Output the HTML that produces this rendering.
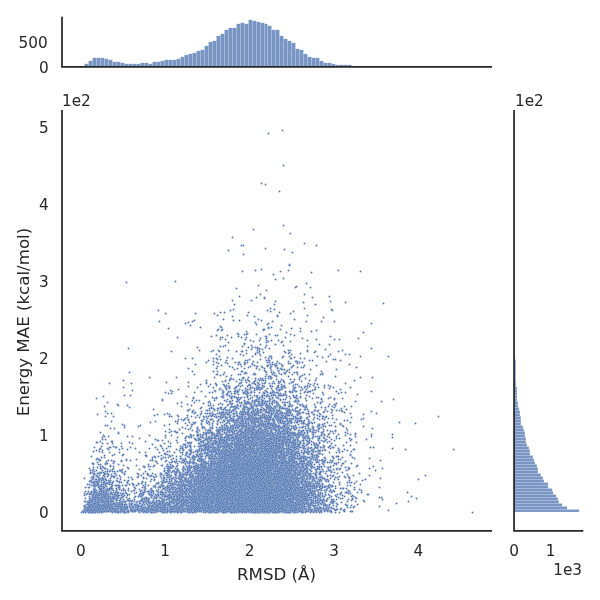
<!DOCTYPE html>
<html lang="en"><head><meta charset="utf-8"><title>RMSD vs Energy MAE</title>
<style>html,body{margin:0;padding:0;background:#fff}svg{display:block}text{font-family:"DejaVu Sans","Liberation Sans",sans-serif;fill:#262626}.t{font-size:15.28px}.l{font-size:16.67px}.b rect{fill:#4c72b0;fill-opacity:.75;stroke:#fff;stroke-width:.15}.sp{stroke:#262626;stroke-width:1.736;stroke-linecap:square;fill:none}</style></head>
<body>
<svg width="600" height="600" viewBox="0 0 600 600">
<rect width="600" height="600" fill="#fff"/>
<g class="b"><rect x="84.5" y="63.85" width="4" height="3.00"/><rect x="88.5" y="60.85" width="4" height="6.00"/><rect x="92.5" y="57.85" width="4" height="9.00"/><rect x="96.5" y="57.85" width="4" height="9.00"/><rect x="100.5" y="57.85" width="4" height="9.00"/><rect x="104.5" y="58.85" width="4" height="8.00"/><rect x="108.5" y="59.85" width="4" height="7.00"/><rect x="112.5" y="61.85" width="4" height="5.00"/><rect x="116.5" y="61.85" width="4" height="5.00"/><rect x="120.5" y="62.85" width="4" height="4.00"/><rect x="124.5" y="63.85" width="4" height="3.00"/><rect x="128.5" y="63.85" width="4" height="3.00"/><rect x="132.5" y="63.85" width="4" height="3.00"/><rect x="136.5" y="63.85" width="4" height="3.00"/><rect x="140.5" y="62.85" width="4" height="4.00"/><rect x="144.5" y="62.85" width="4" height="4.00"/><rect x="148.5" y="63.85" width="4" height="3.00"/><rect x="152.5" y="61.85" width="4" height="5.00"/><rect x="156.5" y="61.85" width="4" height="5.00"/><rect x="160.5" y="60.85" width="4" height="6.00"/><rect x="164.5" y="59.85" width="4" height="7.00"/><rect x="168.5" y="59.85" width="4" height="7.00"/><rect x="172.5" y="59.85" width="4" height="7.00"/><rect x="176.5" y="58.85" width="4" height="8.00"/><rect x="180.5" y="56.85" width="4" height="10.00"/><rect x="184.5" y="54.85" width="4" height="12.00"/><rect x="188.5" y="53.85" width="4" height="13.00"/><rect x="192.5" y="52.85" width="4" height="14.00"/><rect x="196.5" y="50.85" width="4" height="16.00"/><rect x="200.5" y="49.85" width="4" height="17.00"/><rect x="204.5" y="45.85" width="4" height="21.00"/><rect x="208.5" y="41.85" width="4" height="25.00"/><rect x="212.5" y="40.85" width="4" height="26.00"/><rect x="216.5" y="35.85" width="4" height="31.00"/><rect x="220.5" y="33.85" width="4" height="33.00"/><rect x="224.5" y="29.85" width="4" height="37.00"/><rect x="228.5" y="27.85" width="4" height="39.00"/><rect x="232.5" y="27.85" width="4" height="39.00"/><rect x="236.5" y="23.85" width="4" height="43.00"/><rect x="240.5" y="22.85" width="4" height="44.00"/><rect x="244.5" y="23.85" width="4" height="43.00"/><rect x="248.5" y="19.85" width="4" height="47.00"/><rect x="252.5" y="20.85" width="4" height="46.00"/><rect x="256.5" y="21.85" width="4" height="45.00"/><rect x="260.5" y="22.85" width="4" height="44.00"/><rect x="264.5" y="23.85" width="3" height="43.00"/><rect x="267.5" y="25.85" width="4" height="41.00"/><rect x="271.5" y="29.85" width="4" height="37.00"/><rect x="275.5" y="29.85" width="4" height="37.00"/><rect x="279.5" y="35.85" width="4" height="31.00"/><rect x="283.5" y="38.85" width="4" height="28.00"/><rect x="287.5" y="40.85" width="4" height="26.00"/><rect x="291.5" y="42.85" width="4" height="24.00"/><rect x="295.5" y="48.85" width="4" height="18.00"/><rect x="299.5" y="49.85" width="4" height="17.00"/><rect x="303.5" y="53.85" width="4" height="13.00"/><rect x="307.5" y="56.85" width="4" height="10.00"/><rect x="311.5" y="57.85" width="4" height="9.00"/><rect x="315.5" y="57.85" width="4" height="9.00"/><rect x="319.5" y="60.85" width="4" height="6.00"/><rect x="323.5" y="62.85" width="4" height="4.00"/><rect x="327.5" y="62.85" width="4" height="4.00"/><rect x="331.5" y="63.85" width="4" height="3.00"/><rect x="335.5" y="64.85" width="4" height="2.00"/><rect x="339.5" y="64.85" width="4" height="2.00"/><rect x="343.5" y="64.85" width="4" height="2.00"/><rect x="347.5" y="64.85" width="4" height="2.00"/><rect x="351.5" y="66.15" width="4" height="0.70"/><rect x="355.5" y="66.30" width="4" height="0.55"/><rect x="359.5" y="66.40" width="4" height="0.45"/><rect x="363.5" y="66.50" width="4" height="0.35"/><rect x="367.5" y="66.55" width="4" height="0.30"/><rect x="371.5" y="66.60" width="4" height="0.25"/><rect x="375.5" y="66.65" width="4" height="0.20"/><rect x="379.5" y="66.70" width="4" height="0.15"/></g>
<g class="b"><rect x="514.05" y="509.5" width="65.15" height="2.5"/><rect x="514.05" y="506.5" width="53.05" height="3.0"/><rect x="514.05" y="503.5" width="48.05" height="3.0"/><rect x="514.05" y="500.5" width="44.90" height="3.0"/><rect x="514.05" y="497.5" width="43.90" height="3.0"/><rect x="514.05" y="494.5" width="42.05" height="3.0"/><rect x="514.05" y="491.5" width="39.05" height="3.0"/><rect x="514.05" y="488.5" width="38.05" height="3.0"/><rect x="514.05" y="485.5" width="34.05" height="3.0"/><rect x="514.05" y="482.5" width="34.05" height="3.0"/><rect x="514.05" y="479.5" width="29.90" height="3.0"/><rect x="514.05" y="476.5" width="28.90" height="3.0"/><rect x="514.05" y="473.5" width="26.90" height="3.0"/><rect x="514.05" y="470.5" width="23.90" height="3.0"/><rect x="514.05" y="467.5" width="23.90" height="3.0"/><rect x="514.05" y="464.5" width="22.90" height="3.0"/><rect x="514.05" y="461.5" width="20.90" height="3.0"/><rect x="514.05" y="458.5" width="19.90" height="3.0"/><rect x="514.05" y="455.5" width="18.90" height="3.0"/><rect x="514.05" y="452.5" width="15.90" height="3.0"/><rect x="514.05" y="449.5" width="15.90" height="3.0"/><rect x="514.05" y="446.5" width="14.90" height="3.0"/><rect x="514.05" y="443.5" width="12.90" height="3.0"/><rect x="514.05" y="440.5" width="11.90" height="3.0"/><rect x="514.05" y="437.5" width="11.90" height="3.0"/><rect x="514.05" y="434.5" width="10.90" height="3.0"/><rect x="514.05" y="431.5" width="10.90" height="3.0"/><rect x="514.05" y="428.5" width="9.90" height="3.0"/><rect x="514.05" y="425.5" width="8.90" height="3.0"/><rect x="514.05" y="422.5" width="6.90" height="3.0"/><rect x="514.05" y="419.5" width="6.90" height="3.0"/><rect x="514.05" y="416.5" width="6.90" height="3.0"/><rect x="514.05" y="413.5" width="5.90" height="3.0"/><rect x="514.05" y="410.5" width="5.90" height="3.0"/><rect x="514.05" y="407.5" width="4.90" height="3.0"/><rect x="514.05" y="404.5" width="3.90" height="3.0"/><rect x="514.05" y="401.5" width="3.90" height="3.0"/><rect x="514.05" y="398.5" width="2.90" height="3.0"/><rect x="514.05" y="395.5" width="2.90" height="3.0"/><rect x="514.05" y="392.5" width="2.90" height="3.0"/><rect x="514.05" y="389.5" width="2.90" height="3.0"/><rect x="514.05" y="386.5" width="2.90" height="3.0"/><rect x="514.05" y="383.5" width="1.90" height="3.0"/><rect x="514.05" y="380.5" width="1.90" height="3.0"/><rect x="514.05" y="377.5" width="1.70" height="3.0"/><rect x="514.05" y="374.5" width="1.70" height="3.0"/><rect x="514.05" y="371.5" width="1.70" height="3.0"/><rect x="514.05" y="368.5" width="1.70" height="3.0"/><rect x="514.05" y="365.5" width="1.70" height="3.0"/><rect x="514.05" y="362.5" width="1.70" height="3.0"/><rect x="514.05" y="359.5" width="1.70" height="3.0"/></g>
<defs><marker id="m" markerUnits="userSpaceOnUse" markerWidth="4" markerHeight="4" refX="2" refY="2" viewBox="0 0 4 4" overflow="visible"><circle cx="2" cy="2" r=".982" fill="#4c72b0" stroke="#fff" stroke-width=".157"/></marker></defs>
<path transform="translate(.5 .5)" fill="none" stroke="none" marker-start="url(#m)" marker-mid="url(#m)" marker-end="url(#m)" d="M275 489 227 456 205 470 317 436 254 473 278 398 145 482 301 508 112 485 186 472 265 426 259 427 276 441 91 477 266 450 305 407 198 471 212 496 328 485 197 500 306 501 308 427 294 443 303 421 291 358 186 436 257 418 337 456 255 419 327 505 237 419 231 495 381 401 309 473 294 433 263 473 320 403 268 433 292 437 283 442 227 470 371 434 305 398 169 502 151 511 269 454 309 477 280 368 293 396 184 493 178 482 314 455 146 502 371 391 228 462 304 484 158 310 329 404 216 508 237 494 205 488 116 509 255 353 147 511 304 502 150 460 281 325 84 510 231 429 236 411 268 415 105 474 283 380 260 508 114 503 105 464 253 413 274 455 211 479 323 464 317 426 193 397 104 436 113 501 236 455 259 437 356 367 379 487 205 432 329 433 274 408 349 491 148 505 301 427 291 478 215 500 245 390 169 486 216 335 111 506 113 461 191 475 228 444 250 443 263 425 112 483 277 361 238 391 337 473 181 503 310 492 307 457 298 430 238 485 146 499 83 510 323 447 157 496 177 495 241 426 330 336 113 492 224 450 324 419 298 500 312 426 309 452 306 424 281 481 251 450 215 452 281 423 236 387 250 385 301 509 178 478 113 463 193 491 281 395 248 452 237 406 185 488 289 439 166 479 250 462 298 400 297 489 185 437 215 492 132 500 211 512 285 443 111 484 306 482 175 481 297 478 283 464 164 443 210 413 289 403 324 500 116 475 144 466 96 498 210 439 293 466 245 419 292 507 307 409 151 508 107 473 283 278 298 491 292 414 278 371 291 494 128 512 302 505 252 473 209 413 102 506 190 474 292 443 295 463 349 468 336 506 201 459 307 470 269 422 236 419 264 442 305 487 171 459 287 428 204 485 316 469 357 394 242 413 231 337 209 511 145 441 115 512 205 450 271 366 258 440 174 497 278 481 319 464 295 391 314 422 149 498 296 473 318 431 221 435 99 499 93 491 106 503 233 409 222 434 183 509 290 479 92 497 268 360 290 419 164 501 228 434 170 466 237 455 221 486 279 470 214 478 181 480 306 389 205 444 112 510 339 482 249 461 188 382 257 459 210 415 307 476 188 503 188 420 159 452 156 506 188 482 177 504 192 457 231 444 263 465 291 432 216 449 240 383 266 340 200 501 315 481 259 389 264 432 116 502 277 478 234 480 232 454 107 489 209 430 237 392 215 483 246 394 223 439 238 481 154 496 259 512 207 484 304 451 277 392 226 474 287 452 302 497 261 404 285 458 195 364 210 384 278 340 239 495 217 366 318 508 313 419 249 433 242 409 192 430 272 456 225 459 299 444 224 457 246 428 286 470 248 399 269 348 285 441 225 386 211 428 278 425 287 503 321 447 234 446 97 462 150 489 274 392 303 480 288 481 307 485 214 440 333 508 210 432 343 445 93 464 213 468 283 512 235 510 261 440 300 466 268 413 129 442 188 419 285 507 175 477 287 413 112 443 115 447 203 471 231 443 237 467 113 502 212 470 224 478 180 448 309 421 284 387 132 479 242 479 183 490 154 477 93 482 277 316 265 470 331 486 242 412 283 489 110 470 245 469 287 402 304 243 172 507 178 416 208 512 274 501 304 485 316 443 311 499 295 467 276 468 260 512 223 409 187 480 247 468 200 455 314 404 287 438 285 470 268 405 98 499 179 450 271 356 285 465 206 470 178 485 196 400 350 440 176 503 226 512 167 485 237 333 165 488 329 462 223 319 297 420 335 376 317 418 269 445 306 484 323 412 257 409 316 470 301 367 261 427 254 432 247 445 232 418 110 492 333 387 282 465 221 418 329 446 309 492 247 409 161 494 189 449 275 344 151 506 276 389 161 481 318 424 307 471 115 494 112 441 177 481 293 365 205 429 250 420 103 507 202 486 227 395 283 484 288 438 148 499 307 467 306 435 214 435 326 361 169 468 193 398 97 442 209 459 258 470 273 453 143 478 259 499 194 374 214 508 185 495 87 509 163 501 277 397 239 460 218 459 99 491 264 386 244 509 327 498 308 383 277 335 335 431 250 457 285 495 202 465 294 460 284 491 276 469 189 445 350 455 290 233 307 351 257 410 232 426 317 384 202 475 308 474 273 487 206 474 99 487 196 440 232 506 250 451 264 506 97 485 262 383 232 428 122 508 261 457 109 383 258 432 165 482 209 476 207 432 297 500 307 450 257 385 234 444 169 509 293 428 85 501 126 460 298 424 182 433 231 393 82 511 242 441 127 481 197 436 250 448 258 418 238 487 278 484 208 421 175 421 248 488 283 471 252 411 94 483 151 496 232 421 177 423 122 507 90 498 263 380 248 414 205 448 337 468 235 447 307 435 243 510 139 469 241 440 287 470 243 254 254 427 308 511 331 309 192 503 107 425 223 491 219 462 236 437 94 474 106 461 257 440 124 474 275 455 237 485 222 484 216 430 209 495 264 410 190 466 287 448 203 483 200 480 262 415 250 429 259 444 256 499 212 494 248 433 122 469 210 504 255 420 192 400 300 471 136 505 256 495 233 414 165 461 213 433 300 397 258 422 148 493 240 463 291 433 324 446 177 432 304 473 289 429 291 483 151 488 327 422 181 406 263 352 318 479 242 385 274 375 261 401 129 506 257 347 185 492 276 375 259 447 211 408 229 472 241 421 212 504 312 500 244 403 195 492 292 374 275 448 178 498 284 432 265 390 323 501 185 493 204 440 280 431 219 501 263 459 309 439 116 447 275 486 187 466 102 511 282 418 235 480 195 512 228 464 192 462 236 412 222 472 322 501 209 493 191 473 271 388 277 450 140 496 356 466 275 425 299 487 114 473 284 459 304 507 191 424 302 494 333 502 222 443 229 479 267 490 212 471 212 463 258 452 245 413 214 467 183 444 270 432 237 416 161 504 225 414 223 374 257 443 240 480 286 417 194 471 285 438 320 481 126 282 262 439 277 438 224 467 282 434 295 468 310 431 198 472 175 487 216 482 92 503 263 330 227 413 240 436 266 412 134 511 218 408 163 512 164 471 265 482 242 455 105 491 346 470 243 490 313 512 287 426 239 430 237 445 292 462 220 451 279 428 127 467 234 472 276 506 260 481 192 458 270 451 200 414 279 409 283 504 128 499 233 420 129 484 175 506 94 496 251 391 324 435 280 437 235 453 295 474 264 383 274 467 157 503 224 425 98 494 283 165 230 417 206 506 201 493 180 495 392 437 302 456 289 493 188 443 239 320 259 384 238 484 249 438 327 467 246 373 89 505 255 270 268 459 134 497 194 473 210 456 285 473 209 489 236 408 193 467 263 461 306 467 295 498 254 434 289 445 287 461 300 393 113 446 332 491 308 441 92 470 203 446 212 428 131 491 96 476 100 448 267 444 263 469 240 449 295 420 328 469 193 459 262 378 230 397 273 419 270 459 106 482 312 466 221 506 306 472 164 506 247 362 95 486 332 456 209 494 239 451 249 419 307 350 276 451 157 510 383 303 267 436 281 442 287 482 225 442 147 491 186 480 330 510 250 366 283 451 226 443 240 420 217 471 313 393 207 503 224 499 244 368 337 477 293 472 336 499 132 508 250 398 272 483 213 482 278 455 168 475 292 446 251 477 267 424 259 470 165 490 282 388 201 509 121 446 217 315 101 502 330 397 186 396 272 475 311 456 284 431 238 408 176 432 259 457 198 458 285 506 243 479 189 498 152 459 122 497 342 451 231 473 117 471 183 506 103 509 245 393 317 459 187 417 201 458 269 403 245 472 258 399 325 506 202 497 221 438 298 432 246 443 253 418 311 491 231 469 220 442 304 499 342 472 294 456 259 434 268 328 161 484 190 462 332 503 300 475 177 415 304 489 271 452 184 503 279 503 231 453 283 506 236 495 293 395 245 458 252 452 270 462 134 509 235 390 310 510 207 504 255 431 314 383 275 501 222 454 285 432 201 462 93 478 285 431 272 408 264 448 272 398 303 512 194 480 111 508 203 472 169 414 338 450 207 444 291 477 217 359 277 440 314 478 165 453 134 504 269 356 304 476 282 365 247 487 199 461 128 348 96 398 190 504 302 427 224 372 285 430 257 430 150 495 255 458 196 488 112 499 215 453 232 450 284 484 271 378 107 448 208 501 282 468 287 449 208 477 268 327 288 486 119 475 316 339 204 502 263 414 286 440 193 494 169 507 316 461 174 510 162 500 293 456 156 507 184 497 255 439 283 418 310 502 246 422 225 466 229 444 316 512 329 484 215 444 308 442 103 484 228 350 212 464 274 435 231 404 157 483 198 443 97 494 319 474 158 501 264 487 224 433 264 329 261 411 276 440 301 423 299 418 110 501 285 392 286 506 236 381 100 490 221 478 261 480 340 360 121 497 271 370 102 490 265 457 170 495 288 353 289 264 288 450 221 464 272 401 223 397 315 351 230 428 325 480 301 462 381 497 206 454 226 401 256 497 205 490 154 415 208 441 308 391 187 404 201 411 149 501 267 494 283 444 100 500 327 442 210 440 238 473 247 459 208 473 314 508 134 490 93 508 223 459 270 308 261 459 185 358 208 476 104 406 115 503 109 502 112 476 259 463 266 453 201 450 252 410 249 483 134 501 239 464 283 431 289 352 154 498 228 484 281 342 230 493 314 444 269 508 291 428 293 498 284 507 305 438 118 508 203 502 220 472 178 502 270 434 285 444 261 429 280 444 111 498 300 459 246 495 306 464 141 509 252 363 214 474 165 505 239 402 288 447 168 328 230 425 265 433 214 465 259 349 355 434 288 361 330 448 342 495 219 475 300 463 268 451 307 340 265 429 283 481 269 460 122 494 272 445 203 427 198 440 186 491 314 467 98 498 296 499 107 491 250 453 156 483 269 413 255 502 393 399 302 445 240 354 284 351 250 433 317 501 194 487 153 466 228 447 253 382 229 419 297 422 93 474 195 497 194 413 371 348 232 462 296 451 278 508 290 421 359 489 297 451 197 465 93 463 303 479 294 472 418 479 252 440 292 419 239 458 169 479 229 401 213 489 191 499 222 483 84 478 275 366 259 403 153 486 265 418 208 507 217 444 268 453 262 417 263 417 309 416 243 393 318 492 244 510 352 499 205 434 354 449 149 435 316 447 269 411 325 495 338 448 234 497 204 427 189 437 295 408 173 501 254 390 267 366 144 509 271 424 246 448 199 495 230 391 297 466 180 509 287 507 315 460 177 492 302 488 193 452 139 512 217 330 257 432 256 426 300 458 232 436 147 507 106 463 217 474 140 506 219 413 311 459 266 290 222 426 208 488 119 481 338 270 215 455 191 416 293 454 323 429 277 421 153 502 274 457 220 428 133 507 94 512 236 465 296 500 247 497 349 477 283 473 337 509 233 309 267 512 222 471 171 431 288 414 169 467 318 511 309 490 288 475 261 396 253 447 171 498 289 468 96 510 319 451 250 432 223 489 180 480 231 475 212 454 284 435 363 332 290 492 258 404 210 498 187 509 319 477 278 415 278 472 244 458 232 471 237 454 279 408 236 415 101 478 304 475 336 496 228 501 310 484 132 436 293 448 347 492 288 492 208 463 244 392 225 448 319 472 168 477 125 504 211 416 229 460 266 430 292 252 266 416 108 475 205 469 171 508 252 481 206 422 309 505 379 506 186 466 158 500 207 476 93 486 330 478 250 388 279 425 98 479 176 475 171 393 193 469 87 501 332 418 194 456 325 450 251 433 249 408 162 448 270 423 195 498 259 453 117 503 216 368 259 486 341 502 193 502 267 439 278 410 213 371 244 512 260 436 193 500 164 425 257 348 212 419 149 469 218 363 150 422 290 450 289 433 239 429 290 466 241 469 312 431 270 473 260 443 94 508 258 424 168 393 307 417 282 426 284 372 255 454 271 444 157 491 220 456 137 504 306 445 345 383 354 458 260 410 275 395 83 512 276 504 169 432 274 373 235 406 229 429 193 497 300 413 277 485 108 510 195 422 203 437 253 424 230 469 106 510 336 419 239 399 242 422 220 433 232 487 97 512 310 483 332 500 315 410 212 414 247 441 280 471 309 481 262 425 221 439 229 450 173 510 321 471 157 511 251 452 258 449 255 509 262 453 200 439 258 285 302 405 179 489 230 474 204 478 211 469 212 468 234 452 200 384 113 416 292 458 328 470 248 347 239 436 264 512 261 399 190 461 256 505 254 421 112 489 249 511 187 470 213 405 221 484 216 450 261 269 286 467 331 508 304 450 270 430 270 488 322 461 194 320 270 445 322 459 262 432 246 432 84 495 255 413 300 328 357 504 339 469 277 418 251 430 315 389 357 465 190 491 105 484 297 367 293 486 206 446 254 426 288 446 275 473 202 506 167 468 277 504 235 438 107 508 277 511 203 473 281 487 209 496 178 506 94 504 201 477 271 410 258 462 214 481 240 398 228 439 161 506 220 346 179 487 349 354 123 489 211 478 312 505 185 459 212 487 188 493 211 504 277 476 206 509 296 491 228 446 117 497 192 358 250 472 221 475 326 509 219 463 220 339 319 419 258 388 222 465 146 456 162 493 208 499 246 469 286 500 103 483 104 455 353 507 236 445 329 505 240 455 265 439 99 472 220 480 279 463 216 494 265 508 104 497 321 398 123 380 275 427 206 453 206 477 223 485 209 456 242 371 103 487 139 438 221 407 246 458 295 487 268 445 98 480 98 481 281 437 98 485 179 500 335 477 105 478 222 413 336 410 222 498 276 412 204 446 350 387 290 422 238 500 97 504 310 505 243 506 208 496 211 433 212 473 232 452 299 377 118 432 280 438 231 397 315 406 119 485 220 464 229 380 266 342 221 454 263 474 298 474 256 389 304 433 249 414 262 452 281 369 272 321 283 491 274 481 102 443 252 492 279 435 94 473 217 480 327 488 257 475 119 495 277 445 173 484 210 450 248 434 287 472 274 415 295 400 210 438 245 485 236 469 244 450 186 499 103 497 153 512 144 467 220 312 213 500 273 449 307 498 215 467 209 472 314 448 297 441 249 453 281 431 333 499 273 436 229 485 267 362 284 467 219 439 270 474 180 504 280 484 168 468 244 431 298 471 305 480 193 461 267 422 199 485 173 497 197 431 269 426 281 482 302 440 281 414 153 508 334 509 224 505 142 510 309 494 161 507 287 501 221 428 220 492 328 480 87 493 282 416 268 470 320 471 115 473 321 460 102 439 304 456 219 480 253 461 228 342 268 341 215 509 326 501 278 477 279 451 298 446 246 337 189 488 271 469 288 454 214 438 335 488 316 455 280 488 288 412 174 484 85 498 203 492 111 476 218 486 299 434 268 509 266 459 248 449 104 457 213 481 215 443 316 471 308 494 304 486 331 472 238 431 228 459 252 383 136 459 160 474 310 470 172 487 292 508 293 410 196 468 181 490 241 461 246 477 307 425 303 465 264 476 286 432 221 459 272 450 238 362 249 425 356 481 244 364 123 387 279 394 232 430 203 482 139 452 291 490 213 450 262 422 237 452 259 423 290 430 229 451 247 439 198 502 185 458 252 436 257 498 108 483 223 483 296 396 158 511 246 438 207 430 284 373 190 497 267 406 325 509 184 485 174 461 214 313 228 392 238 441 218 454 210 463 274 466 170 496 328 467 224 442 255 438 127 494 237 390 259 448 267 425 98 487 299 470 274 469 183 450 252 487 254 442 231 471 111 499 236 460 307 472 143 512 292 452 114 428 235 473 292 445 278 444 247 505 191 442 121 490 183 475 174 479 235 420 231 437 286 412 290 480 278 370 243 456 372 428 267 388 95 489 299 447 227 481 103 490 260 470 167 512 317 505 193 480 204 465 125 509 161 478 180 485 243 468 103 506 173 489 318 502 246 334 285 455 218 419 259 392 153 510 146 501 272 390 287 506 216 416 346 409 283 478 139 501 246 407 230 502 289 440 200 327 223 415 285 424 212 438 261 471 93 483 314 445 236 441 188 510 207 472 233 449 149 505 200 444 290 438 305 494 167 474 199 501 133 485 150 512 318 498 236 453 280 441 104 481 284 405 228 493 230 435 290 436 266 484 227 438 302 436 114 454 162 489 271 393 145 512 310 464 260 423 268 365 219 482 180 500 276 427 288 453 190 512 233 418 252 427 244 454 181 491 223 478 222 476 124 505 199 448 282 501 175 504 273 438 239 508 273 496 171 462 284 482 271 508 250 421 224 500 184 505 347 430 220 477 286 430 298 433 208 433 207 494 241 435 323 478 278 492 303 485 314 509 290 469 119 488 170 468 112 471 267 460 248 468 237 404 193 481 253 452 285 468 212 508 106 486 212 425 201 486 256 468 147 508 111 487 330 431 127 499 326 439 186 503 268 396 280 504 276 481 317 499 289 418 254 484 305 448 98 501 356 442 308 414 220 445 250 436 293 444 291 470 307 385 119 449 257 455 238 364 230 415 311 441 273 472 115 509 318 503 280 389 215 511 227 488 287 509 276 511 221 412 190 451 282 510 191 481 218 420 254 403 93 512 318 429 322 495 103 493 296 458 178 499 231 465 94 486 282 455 268 438 259 401 243 445 185 445 106 505 199 459 202 480 268 412 314 417 116 507 329 344 223 450 277 443 350 454 117 504 237 438 286 433 210 457 147 510 171 502 303 445 287 408 237 511 216 354 203 499 260 338 304 461 293 494 158 482 221 446 266 360 276 501 297 486 286 445 151 490 310 489 103 504 255 354 264 431 274 460 276 487 271 509 289 469 159 500 189 466 292 460 297 502 295 481 195 465 263 457 241 471 170 456 262 441 283 449 297 443 177 510 321 371 164 481 196 490 243 459 266 372 252 413 107 488 322 357 194 508 157 414 319 467 276 462 271 447 182 511 190 490 202 445 255 492 217 432 244 481 230 445 135 507 245 489 196 456 305 491 291 354 94 471 119 487 268 452 190 436 274 420 289 420 195 457 262 423 296 391 297 448 175 500 202 490 220 438 217 441 182 502 288 442 194 463 249 463 247 431 279 482 232 495 271 425 322 463 213 444 214 442 259 445 104 505 279 413 203 487 293 442 283 345 97 503 229 447 255 475 169 485 201 423 302 431 255 405 327 475 248 312 349 438 240 417 201 413 313 496 313 487 333 465 239 459 224 486 163 493 222 457 273 470 171 416 169 488 257 382 247 411 280 473 291 367 208 472 110 507 207 423 202 463 250 475 288 485 222 463 193 466 93 484 182 446 100 485 321 467 241 245 218 433 257 352 253 502 245 388 300 490 101 498 304 423 282 369 255 384 207 452 279 382 231 493 174 506 257 422 228 431 221 409 376 413 302 511 278 502 316 444 243 486 264 459 299 410 95 479 297 372 326 481 268 488 276 450 301 478 187 467 241 432 266 472 234 369 203 416 289 425 168 494 280 482 268 441 177 337 253 485 303 500 163 508 201 451 166 466 286 453 262 349 214 460 207 441 285 413 267 479 231 470 174 495 251 492 173 470 185 481 196 486 141 494 244 406 192 510 151 497 291 453 284 462 120 477 199 467 213 358 300 501 130 460 228 440 171 512 253 435 294 401 325 510 270 503 289 456 227 442 235 393 98 495 305 492 130 505 278 458 178 494 281 417 197 495 230 477 250 418 203 463 296 448 312 501 312 434 280 456 209 447 202 477 196 500 171 500 198 434 264 491 283 425 275 413 302 470 264 475 318 439 210 471 284 430 282 447 271 403 250 465 262 468 207 468 252 415 303 467 267 394 243 425 186 473 177 437 117 500 263 493 212 491 296 469 226 388 287 511 227 422 142 501 306 466 264 427 142 500 239 474 263 403 300 495 291 421 240 430 361 419 235 482 253 421 194 466 270 453 305 474 186 508 278 416 225 451 181 509 240 446 203 460 258 458 158 440 226 471 190 472 245 508 116 496 201 488 88 508 235 362 247 466 301 450 171 478 179 472 158 505 279 418 136 510 260 439 322 483 212 447 266 457 201 453 219 448 271 414 292 493 341 492 291 328 315 432 237 493 262 404 279 436 298 511 142 495 247 395 308 413 189 480 214 502 223 469 219 505 230 434 348 476 265 336 289 369 294 463 98 484 265 419 267 463 238 479 287 454 265 467 285 481 316 476 207 440 304 294 217 501 251 349 325 492 277 482 197 509 226 473 282 505 215 482 162 496 250 482 308 483 278 428 263 423 227 431 217 511 200 457 161 473 232 316 305 475 238 460 253 422 281 379 157 440 203 512 345 467 191 498 240 467 220 434 237 441 248 417 231 411 109 510 169 497 219 474 206 467 236 511 239 431 127 495 216 477 278 464 286 493 232 460 223 346 329 296 273 440 269 511 225 450 292 426 197 471 328 487 89 484 115 493 241 453 203 459 191 476 293 512 226 428 148 485 295 361 297 421 262 435 203 462 269 406 117 492 238 480 188 436 246 421 93 492 226 464 285 421 316 454 275 483 233 429 276 403 253 491 292 504 177 489 246 466 141 508 225 500 286 474 209 481 211 499 323 507 258 445 119 508 222 422 246 475 150 466 288 477 310 490 211 447 158 494 288 509 230 401 255 441 318 445 263 440 216 385 135 448 325 458 208 461 260 417 157 463 340 488 286 428 95 494 279 405 199 438 211 498 257 433 322 433 226 453 264 463 318 410 302 412 217 484 265 380 235 451 168 446 289 471 232 406 296 489 247 333 315 511 257 387 330 489 125 485 197 429 268 483 220 388 248 410 309 469 141 499 291 466 257 478 209 452 99 504 239 442 132 483 242 445 285 483 188 511 266 448 283 415 176 506 288 476 260 496 222 453 157 504 227 461 117 511 216 512 283 356 182 488 248 436 235 428 250 500 210 489 279 493 259 418 149 507 321 508 254 492 145 486 220 418 226 360 262 436 297 464 232 458 212 437 278 434 227 491 208 509 124 395 240 501 222 493 249 441 163 479 165 503 165 487 294 451 283 465 269 469 121 506 261 467 104 483 361 492 180 472 297 470 303 474 218 480 264 402 95 508 282 130 268 458 280 509 230 456 227 357 347 505 363 418 272 428 271 462 182 475 262 444 243 432 212 427 259 469 250 485 324 490 280 446 220 413 296 476 135 510 227 363 233 407 189 495 238 456 151 495 182 469 191 466 252 419 216 487 183 477 271 340 206 380 252 406 269 488 268 465 251 419 288 493 100 491 243 473 186 509 197 468 216 479 202 460 233 451 236 507 221 365 288 498 308 461 216 398 231 445 293 451 330 460 183 508 322 374 142 493 275 335 270 457 298 401 231 430 392 448 294 439 198 510 202 428 216 472 174 512 190 480 312 438 272 364 327 430 125 492 248 403 226 489 274 364 98 459 215 449 281 493 138 496 238 420 220 417 285 463 280 466 264 398 220 498 261 468 208 511 137 507 301 456 161 510 332 476 256 461 176 493 231 461 179 509 211 443 268 323 236 497 292 453 234 460 290 411 194 458 246 440 286 443 116 508 241 351 360 377 210 500 237 472 325 440 286 505 243 392 205 396 85 506 296 484 178 512 297 475 198 477 320 447 238 461 227 445 246 418 172 455 279 395 329 425 186 482 186 495 206 416 319 501 269 493 230 501 224 429 278 466 318 462 237 432 164 508 97 458 245 441 107 469 214 436 310 448 155 461 127 500 112 500 249 475 192 497 282 478 203 488 229 478 140 501 242 449 200 473 262 458 180 512 283 500 334 479 249 452 269 417 295 476 260 355 271 464 303 435 267 461 340 459 203 493 113 496 239 443 283 435 282 482 288 478 106 500 253 420 239 507 189 409 261 504 267 442 118 492 286 468 236 426 251 407 231 501 288 409 258 491 264 470 306 413 168 457 236 444 206 362 235 502 175 480 218 439 258 475 220 465 155 447 213 469 221 458 161 446 269 398 273 421 119 503 274 304 221 436 295 471 264 473 243 492 143 498 254 450 302 466 297 458 270 392 240 509 245 372 249 497 183 481 182 462 168 487 96 490 229 414 253 434 248 432 165 473 199 449 225 381 145 497 241 460 320 453 251 446 328 481 114 505 101 510 312 509 97 498 325 460 234 393 302 447 240 447 191 449 276 512 302 430 349 482 274 424 238 494 186 454 322 424 115 508 241 420 319 512 217 429 223 474 219 499 303 490 274 429 293 500 256 512 270 416 281 486 238 445 312 476 92 509 201 504 275 301 313 491 268 420 275 461 264 395 231 484 324 462 183 493 322 484 299 504 232 367 96 494 227 510 301 381 287 440 108 495 152 502 248 367 130 447 172 483 96 485 216 500 345 492 247 401 201 481 204 448 253 460 232 478 312 432 290 468 295 462 192 486 227 428 264 471 133 509 256 448 252 400 245 407 256 467 275 452 186 452 276 447 240 451 296 422 336 436 296 488 294 494 299 404 299 420 159 504 227 447 188 480 225 512 102 512 259 429 247 503 111 421 246 430 226 500 318 490 272 404 123 499 315 474 319 506 255 501 300 353 252 401 254 470 266 401 206 444 313 450 100 488 289 485 202 426 227 462 252 433 274 407 299 469 304 387 191 452 235 423 303 426 146 500 308 504 369 468 273 381 111 493 290 459 285 426 299 483 240 406 281 428 245 480 117 494 231 463 232 477 278 491 283 225 241 457 244 511 241 506 203 486 214 492 317 481 282 452 170 446 205 461 225 489 305 386 96 496 190 443 239 418 268 439 260 344 145 506 272 482 277 403 166 509 234 463 123 490 205 498 127 483 123 507 207 454 228 436 290 512 315 483 89 493 156 497 164 453 314 497 251 476 290 498 172 484 107 483 303 469 259 398 291 500 305 486 200 490 340 468 289 477 107 500 211 508 292 496 314 511 334 404 266 391 201 448 316 497 96 509 172 506 198 470 150 503 121 502 345 504 301 504 121 508 256 436 214 503 221 327 263 408 328 509 263 484 277 315 246 497 302 435 211 509 310 287 148 474 272 423 249 389 260 476 178 491 312 487 249 454 140 425 155 506 204 449 312 477 112 469 312 502 247 389 230 479 181 501 154 511 361 490 227 444 354 483 188 486 322 401 283 408 118 433 314 443 306 436 222 489 206 481 295 442 192 474 108 449 231 455 110 482 181 475 260 409 342 463 316 485 197 480 312 297 295 453 118 503 248 422 246 353 308 423 174 511 202 498 197 486 285 439 298 437 224 452 289 412 229 395 239 503 263 450 260 440 238 486 245 426 177 471 173 488 246 431 240 448 293 311 191 485 237 460 254 412 158 483 265 405 242 453 242 437 202 435 273 435 298 492 116 498 224 483 297 374 252 480 137 508 228 475 237 453 216 362 263 329 99 493 284 508 175 491 267 443 238 397 182 491 148 501 243 412 297 483 231 440 373 466 226 442 259 498 221 415 90 503 253 410 222 452 230 454 278 411 273 468 302 338 211 455 225 387 248 451 236 490 188 470 218 448 182 492 197 481 176 484 241 337 233 503 281 476 230 484 231 456 292 505 300 468 122 485 347 433 255 409 232 476 252 466 112 511 289 492 219 476 220 429 88 487 262 442 264 297 156 495 230 438 266 421 194 493 319 480 313 477 223 449 201 483 168 499 243 405 176 505 275 460 108 498 284 468 231 452 219 441 240 425 299 454 251 501 228 456 273 452 217 423 254 423 229 501 233 320 311 500 223 416 112 496 292 382 214 505 156 501 323 503 198 484 248 413 334 339 221 456 209 468 244 439 270 497 242 498 271 473 161 485 297 453 290 483 339 484 147 499 90 499 239 480 258 499 321 434 181 478 319 495 286 437 224 484 184 461 323 441 303 492 301 458 137 505 89 503 346 428 197 387 119 470 90 500 246 433 304 470 179 486 333 458 291 497 297 455 103 467 295 509 185 511 320 402 290 458 266 455 280 464 124 427 106 509 105 411 247 407 254 383 249 495 199 471 274 309 185 464 147 474 277 402 217 467 221 476 194 507 258 511 212 455 274 454 197 469 243 464 265 456 284 499 227 475 152 509 193 455 246 331 275 503 329 452 305 500 162 483 340 493 235 455 288 495 256 464 169 501 242 454 232 410 100 499 250 408 301 420 202 501 274 505 289 265 304 406 223 457 251 474 175 505 237 461 347 507 277 512 103 435 203 403 308 454 111 460 138 484 299 503 234 406 252 482 190 454 260 415 197 467 161 493 236 420 270 367 107 443 254 444 212 392 222 478 87 502 109 447 259 424 211 407 330 470 244 401 95 481 306 490 253 494 298 459 279 191 304 503 202 459 333 482 112 497 302 498 114 495 208 402 220 466 253 341 277 475 329 441 322 418 299 481 289 459 125 501 177 498 289 501 161 459 250 416 280 381 373 447 255 465 148 511 311 475 201 465 314 490 190 446 95 484 177 511 292 456 247 432 270 490 174 431 279 484 247 397 192 496 99 498 226 394 199 487 163 482 206 497 256 417 334 491 226 410 323 394 90 472 162 440 229 490 254 459 248 408 256 366 189 500 275 475 249 506 217 496 105 504 289 448 204 489 198 511 312 493 316 378 141 490 221 501 283 399 225 468 119 504 229 455 206 420 307 484 297 485 248 507 237 500 221 470 295 427 240 432 237 447 223 484 327 499 279 450 243 496 290 511 311 462 194 491 289 491 162 399 229 411 239 452 168 472 217 472 268 499 309 506 304 420 100 501 275 478 165 437 194 462 256 476 191 426 227 429 220 436 200 495 298 503 226 463 294 427 273 473 312 488 288 410 222 381 346 492 270 484 315 487 206 436 212 492 277 496 225 482 175 462 329 497 257 414 280 413 253 478 306 483 265 378 105 439 253 463 217 495 308 425 180 501 221 494 296 434 268 431 312 490 228 445 191 437 284 461 261 452 243 438 97 483 109 505 196 506 328 447 313 442 255 453 290 413 221 463 363 500 196 470 304 438 321 489 296 490 283 434 142 482 231 412 270 475 290 467 289 434 244 417 288 464 226 497 324 441 259 417 248 385 273 400 245 363 215 481 213 414 286 446 190 445 139 495 237 505 251 470 294 435 289 372 249 510 214 455 292 392 241 459 100 502 241 455 165 313 164 468 205 433 155 497 189 477 249 468 351 505 146 455 252 420 286 491 171 485 121 461 187 498 253 466 228 489 303 456 204 463 280 510 293 457 256 507 294 458 273 451 176 456 125 508 287 436 251 423 276 431 244 440 250 455 354 380 209 492 155 508 261 421 317 457 209 464 295 452 214 491 171 492 282 500 107 495 279 491 199 505 211 467 330 386 173 499 282 402 222 470 110 494 211 505 289 436 93 495 295 449 91 456 286 485 288 434 199 458 246 444 142 481 90 504 250 450 230 447 262 486 145 452 107 502 289 405 296 493 318 438 220 485 181 510 169 451 219 485 151 507 158 456 305 495 99 490 270 450 156 490 270 447 276 507 234 471 246 456 298 414 344 406 214 456 241 488 218 430 114 506 313 452 225 469 177 465 249 409 311 444 177 442 286 424 251 345 257 425 206 479 294 462 286 492 265 494 255 426 237 480 294 509 244 438 255 417 280 505 182 454 264 418 246 457 232 431 197 504 247 455 221 465 200 408 273 411 237 446 267 428 263 426 96 470 290 482 165 495 164 510 108 509 302 457 213 477 268 474 272 473 102 510 300 477 230 482 257 460 293 461 291 498 206 455 268 358 263 512 210 493 97 508 268 376 273 458 257 451 229 470 293 445 250 479 108 490 227 473 112 488 293 439 227 399 290 341 232 485 327 462 360 271 230 483 207 506 155 494 252 445 272 469 262 467 226 507 98 473 89 508 210 470 205 458 263 392 220 458 241 452 282 421 234 502 224 400 171 481 201 441 107 413 301 417 264 469 294 488 266 496 186 488 209 507 221 496 276 456 114 476 191 483 227 466 218 477 109 504 242 477 290 500 218 511 90 470 234 439 211 474 170 489 309 488 215 414 255 505 310 474 206 466 205 487 212 499 262 470 270 409 278 503 290 476 319 485 162 504 269 424 237 405 97 467 273 454 261 387 195 510 256 456 265 401 214 437 138 483 233 498 245 339 111 486 288 448 247 495 121 443 255 415 246 485 190 434 233 460 285 408 238 496 205 462 260 420 289 401 282 437 271 411 233 480 121 470 196 439 206 493 250 340 116 490 102 507 297 465 205 438 223 413 163 492 212 481 309 374 221 467 99 500 259 387 218 464 174 487 350 422 247 469 196 467 223 497 292 503 250 461 281 445 167 488 293 495 100 510 286 495 282 449 89 481 213 364 217 489 209 498 196 489 268 511 218 487 319 499 325 409 253 408 265 410 183 482 287 430 246 427 106 491 266 506 227 490 320 485 306 400 291 451 283 436 248 491 355 501 110 447 303 412 309 438 259 503 129 504 102 486 274 493 201 489 215 508 172 471 284 460 272 476 187 505 350 507 323 445 286 451 248 495 208 471 85 511 243 452 232 443 287 479 259 473 274 480 272 461 201 508 287 442 255 432 279 489 254 440 293 381 164 495 226 435 211 481 259 460 294 475 171 483 260 500 266 505 104 508 187 481 203 498 216 486 244 344 289 510 221 473 185 486 241 475 253 458 265 453 99 449 306 405 117 508 266 483 231 378 220 484 213 361 117 498 199 473 205 485 254 420 273 424 195 417 199 502 212 451 216 374 294 372 241 465 91 481 305 409 199 454 284 394 246 498 222 499 324 434 257 507 351 511 265 423 246 404 243 470 323 461 103 488 97 501 304 468 215 391 239 478 316 511 164 500 257 467 88 503 256 475 217 454 107 476 280 400 214 416 212 450 292 466 291 493 305 378 192 500 214 483 309 360 340 423 318 456 197 428 322 416 188 507 295 411 260 499 208 503 299 492 282 456 130 500 122 503 294 512 232 420 268 419 278 452 210 455 227 467 292 470 208 451 213 452 292 366 187 484 203 494 220 408 294 486 283 446 232 396 318 493 310 475 330 502 282 498 279 433 411 496 136 492 253 453 167 502 130 395 237 391 182 500 264 415 272 432 203 469 271 477 256 485 116 489 257 401 284 488 222 461 326 471 282 443 277 367 193 489 213 470 354 489 286 410 198 481 110 487 244 433 281 449 113 504 317 502 216 468 294 357 282 497 287 429 252 414 119 489 207 492 334 422 300 510 326 505 230 492 241 431 234 498 218 350 273 488 351 496 156 461 233 421 297 482 280 472 282 479 157 494 97 506 211 490 198 492 248 508 176 473 287 481 242 415 90 509 166 504 168 491 247 403 166 510 251 404 275 432 204 494 210 427 253 436 110 505 188 429 268 467 246 459 285 456 302 476 256 449 240 411 115 506 256 460 228 476 234 448 256 413 290 429 247 430 231 446 268 442 257 350 165 492 271 500 350 485 95 505 230 510 149 377 242 460 287 467 161 492 230 499 208 360 252 474 259 487 264 403 307 478 278 432 213 387 136 485 208 447 275 442 282 464 229 431 143 501 346 488 225 417 189 481 182 510 92 472 249 496 274 479 107 503 228 420 200 482 292 433 224 462 273 502 211 511 316 510 262 480 322 493 277 439 277 447 201 466 275 424 183 511 190 483 269 405 296 437 283 454 242 271 292 510 369 458 120 509 131 503 256 450 295 477 303 510 300 416 306 486 210 502 266 426 153 507 244 465 106 508 219 486 235 469 176 461 110 428 219 433 174 507 211 435 286 499 303 478 236 397 227 484 277 427 197 496 276 493 183 492 229 465 310 391 249 449 270 506 185 463 108 493 300 467 263 393 293 450 115 499 161 511 218 449 237 477 222 446 260 294 232 511 226 462 156 476 230 512 246 382 227 417 277 446 245 422 250 452 235 408 175 472 195 496 281 490 275 456 208 505 243 469 304 392 123 454 312 511 282 494 198 497 215 456 210 487 148 464 250 427 149 510 207 490 284 440 223 384 267 401 321 399 214 390 169 489 231 497 197 491 335 463 331 507 173 509 232 504 163 480 248 393 304 500 253 437 279 441 188 483 203 481 239 446 237 422 297 384 231 426 291 475 190 500 250 506 224 421 92 504 276 439 287 487 318 453 268 489 99 488 277 387 268 455 116 500 260 495 287 477 113 503 130 507 285 486 234 438 279 389 241 443 244 482 103 478 212 449 253 469 296 428 233 427 267 505 243 507 306 495 226 502 327 510 211 492 141 507 135 505 207 450 300 460 195 499 284 422 221 482 166 502 180 477 287 434 265 184 278 511 192 463 213 512 261 416 333 447 241 473 275 484 246 511 327 411 304 446 169 494 141 511 96 481 218 466 253 440 265 481 176 495 145 455 320 472 208 454 316 330 198 459 345 392 154 480 118 497 266 476 305 484 253 493 122 448 172 461 199 350 222 441 263 483 253 472 216 417 216 358 214 506 215 502 314 506 101 468 223 429 211 351 152 457 339 476 256 492 110 496 218 452 217 445 223 477 181 419 293 503 231 468 208 439 334 501 291 455 257 362 234 450 326 416 200 460 330 467 245 510 218 438 324 449 169 506 252 453 318 467 263 486 263 400 292 480 289 476 275 468 293 463 260 454 268 492 250 444 235 481 223 495 105 485 223 496 328 486 200 445 215 448 261 476 310 497 323 505 171 475 190 487 144 498 281 475 138 511 200 474 276 437 316 487 143 511 287 427 108 505 322 477 198 505 339 450 270 433 311 412 131 511 197 493 233 492 174 509 232 444 305 497 233 458 165 489 289 483 198 496 244 500 246 491 191 496 266 474 217 459 311 450 270 408 111 503 250 469 281 386 170 507 293 509 226 458 245 446 235 445 98 507 188 472 208 438 224 432 209 473 289 462 170 483 208 470 172 503 210 461 225 443 295 492 194 392 215 486 262 455 245 451 262 396 137 501 237 443 291 468 123 496 263 460 241 382 248 380 215 476 243 493 303 441 278 395 282 428 250 425 322 469 261 407 133 510 277 430 301 493 279 481 251 443 271 507 319 483 113 490 134 487 145 471 278 457 324 460 273 481 312 491 254 488 299 472 259 369 302 472 121 495 191 477 185 477 289 484 311 465 315 509 274 472 176 488 293 385 149 503 236 498 93 506 298 411 294 447 272 446 104 498 296 436 284 477 267 501 171 507 282 427 246 478 210 478 194 501 92 512 222 504 226 472 247 496 324 411 313 457 124 480 177 509 119 482 306 478 220 511 356 498 278 423 282 454 323 425 196 503 307 453 291 511 226 385 259 433 85 510 194 497 271 467 169 424 302 483 119 502 229 439 306 479 210 492 284 423 304 443 187 489 222 468 292 481 146 511 206 445 264 466 148 475 244 400 89 468 210 506 136 502 244 397 317 490 260 422 229 484 94 488 237 462 247 463 271 499 282 467 312 457 211 507 252 449 173 491 277 486 132 507 223 492 262 508 219 440 276 463 269 463 276 388 204 471 239 439 202 427 216 511 310 473 280 395 348 493 239 509 343 463 268 464 282 459 207 469 247 461 287 510 190 468 206 439 93 500 240 418 209 424 273 444 269 485 225 362 216 483 276 498 211 336 220 439 286 480 257 420 163 503 281 364 128 480 244 449 229 473 196 502 289 474 85 508 92 500 219 487 106 490 219 449 308 421 247 460 296 452 208 495 113 510 98 506 250 435 128 510 295 429 241 487 218 503 288 431 158 509 248 444 209 475 194 459 191 435 110 465 306 503 331 412 272 499 311 454 181 505 242 475 341 408 201 442 227 437 271 502 170 464 305 485 231 486 197 415 309 499 212 500 294 379 301 460 233 453 222 455 108 504 221 493 220 403 263 439 305 391 219 431 211 473 305 508 187 425 91 491 285 387 204 491 242 431 290 420 293 479 344 476 228 502 161 465 244 483 259 466 240 438 212 412 177 463 234 485 299 445 305 459 272 437 250 467 243 453 238 374 209 457 279 444 228 473 205 464 314 496 336 438 316 477 203 461 281 464 312 494 302 423 294 441 312 412 237 415 327 507 237 463 254 449 285 480 281 463 255 487 258 494 257 408 265 427 238 452 267 324 309 457 220 461 220 430 264 370 265 469 275 426 209 429 245 380 225 429 272 436 225 495 267 412 266 338 286 419 290 334 294 467 277 506 280 479 206 448 269 407 182 505 321 503 208 405 107 402 204 492 260 491 172 508 218 429 242 426 149 494 217 413 205 511 269 334 171 435 202 493 126 508 259 467 185 472 280 459 155 421 209 443 348 490 111 510 233 473 227 505 233 481 233 499 319 443 254 458 256 440 199 498 243 488 320 450 181 462 302 501 196 510 276 460 293 416 322 432 216 470 227 479 297 484 176 471 93 489 167 473 184 480 292 447 269 478 255 491 206 383 174 473 229 486 241 477 313 432 285 452 213 480 311 468 150 502 272 481 319 509 123 493 85 509 273 437 242 420 294 477 334 407 244 486 221 498 182 506 282 461 271 417 258 319 362 480 234 468 249 467 319 496 242 423 279 421 223 451 252 500 275 454 232 465 249 476 288 436 295 494 158 495 256 324 180 499 310 466 220 504 172 500 262 479 219 488 242 378 306 460 272 512 294 497 320 486 100 441 101 509 199 490 197 492 308 502 286 414 143 485 283 422 240 510 261 478 177 421 177 403 264 455 95 509 302 512 294 491 214 462 107 510 245 461 97 473 250 417 232 425 135 504 296 501 91 508 255 488 252 455 262 472 223 391 212 483 219 491 230 403 212 452 272 474 262 466 165 508 182 480 290 487 213 446 92 502 183 449 215 477 262 462 125 471 190 447 277 413 201 460 313 486 188 463 246 494 226 487 238 453 251 463 290 391 143 503 132 510 188 478 226 440 323 416 229 507 284 452 147 512 270 446 143 502 285 437 291 488 286 484 304 459 114 496 226 483 283 427 272 504 98 505 247 379 304 495 256 439 305 512 235 464 287 484 111 489 247 510 305 436 220 491 226 427 306 458 196 471 216 462 169 490 191 510 267 487 204 475 217 424 266 469 217 453 261 438 177 497 266 374 245 450 291 446 237 510 253 229 266 345 267 458 123 488 250 473 248 377 232 442 241 414 106 483 261 433 106 504 96 492 245 459 282 480 294 388 295 496 233 457 269 401 171 467 269 439 84 493 173 495 279 457 220 453 415 423 253 482 286 371 261 380 112 507 99 511 269 473 284 502 236 439 229 498 215 478 108 480 278 390 257 405 189 450 284 485 341 410 165 506 157 449 142 504 186 507 265 412 287 485 261 460 280 470 191 501 161 455 314 457 289 479 270 466 311 482 218 475 259 480 333 501 308 465 224 487 210 496 335 510 122 509 269 495 102 505 179 510 334 399 203 484 206 438 296 462 234 507 126 497 299 421 281 439 101 489 248 481 308 489 222 512 336 469 222 393 247 393 187 471 133 511 195 509 271 415 256 481 283 439 198 446 210 510 317 495 344 449 96 503 338 462 267 430 263 433 342 398 327 479 270 385 246 451 189 457 299 510 238 493 318 427 296 467 269 360 178 487 263 501 289 441 290 456 242 351 259 348 267 481 285 490 242 500 213 488 248 424 267 433 104 502 304 497 277 454 288 497 205 447 279 438 245 416 314 414 251 425 311 422 271 443 111 441 228 454 169 505 326 486 208 497 303 440 298 494 319 469 212 397 321 488 253 411 120 505 96 502 221 443 282 499 227 405 284 416 286 471 282 413 184 478 308 499 281 461 263 475 238 497 246 502 232 505 212 465 263 410 151 475 273 491 131 505 244 362 228 468 88 501 300 443 319 486 261 466 219 481 295 439 297 413 152 473 148 498 224 420 159 497 302 509 90 506 244 451 255 322 322 500 295 446 240 437 288 510 187 456 251 436 309 495 292 490 97 414 301 432 194 481 266 485 274 402 249 384 108 499 241 451 269 418 281 448 278 493 182 503 233 476 252 457 213 473 270 510 243 415 224 490 99 481 201 482 243 491 290 410 98 511 199 480 120 512 292 499 249 489 289 449 221 472 244 409 259 455 226 480 172 509 299 436 292 434 230 478 299 506 256 387 188 386 258 447 282 395 224 496 331 512 183 459 241 458 234 482 279 472 350 445 248 429 209 471 252 496 218 473 244 432 169 495 122 493 259 484 123 508 249 512 206 491 236 462 225 441 251 489 222 431 191 487 246 437 269 444 138 426 333 457 277 508 86 509 250 505 302 508 282 341 316 472 331 462 302 461 291 426 370 447 228 472 323 498 245 491 306 497 204 445 167 499 236 466 238 425 126 512 256 437 312 462 219 478 231 496 303 460 238 442 297 508 256 503 304 469 281 494 269 410 236 510 294 426 269 457 99 459 205 503 254 400 382 468 338 456 277 490 175 489 122 506 196 476 325 349 250 405 205 463 194 438 250 449 222 480 247 453 295 497 190 477 159 510 268 502 253 488 352 498 224 459 218 435 237 471 307 443 259 483 272 468 304 448 266 507 279 467 349 364 317 497 266 473 256 472 267 418 235 436 232 403 158 503 254 476 297 472 308 482 92 510 223 473 163 475 319 413 202 474 270 482 261 502 263 436 268 501 213 465 265 478 225 445 283 455 332 460 220 473 242 452 167 497 232 300 175 484 234 449 123 509 122 510 182 449 232 480 274 507 351 417 313 495 143 477 297 507 261 477 303 454 266 456 365 479 281 458 186 489 195 469 284 421 220 437 280 461 285 503 307 392 222 492 347 474 274 474 275 365 285 405 233 438 236 485 233 426 294 390 216 506 183 483 89 512 184 502 254 494 187 490 209 504 314 492 318 468 237 428 244 508 292 495 245 437 243 508 139 510 160 476 222 502 234 461 300 396 233 471 231 449 319 442 249 462 288 350 327 511 211 497 270 452 233 512 93 504 284 438 211 496 153 500 268 428 186 478 275 415 328 385 258 482 288 406 160 491 194 504 272 477 363 414 380 478 285 511 110 506 221 462 250 415 212 484 213 421 308 448 231 438 238 482 100 464 160 504 282 509 207 508 183 420 293 483 274 448 173 496 230 407 265 512 278 414 307 430 208 487 199 474 303 367 234 504 274 383 274 471 265 496 111 507 226 493 275 438 371 436 100 479 228 460 178 508 294 422 131 510 224 511 323 317 254 373 274 449 220 490 271 475 267 445 206 480 265 483 234 304 241 424 194 423 178 511 243 411 261 505 330 301 166 460 233 433 228 391 317 448 250 477 120 470 135 496 234 410 321 512 273 501 270 424 257 502 286 415 141 506 265 475 237 464 291 473 339 438 247 482 324 423 276 363 285 442 297 411 291 509 165 507 247 402 233 456 253 481 117 496 269 376 160 486 104 491 256 493 246 419 289 498 324 509 224 503 276 449 224 446 169 511 197 498 264 504 242 461 240 494 257 412 244 373 275 449 290 404 257 454 242 467 229 410 262 483 151 503 243 457 280 454 185 444 304 457 285 477 229 388 299 432 169 477 153 409 256 297 182 489 235 508 300 497 244 501 224 414 303 496 202 441 88 510 253 406 271 504 232 474 295 397 266 480 205 481 245 457 92 499 176 459 229 474 252 450 269 423 315 446 262 456 222 510 229 412 254 472 126 507 289 467 140 508 319 437 274 442 291 418 258 436 211 485 281 459 204 509 229 496 307 433 169 471 259 510 241 482 88 505 116 491 106 506 281 503 225 507 231 502 210 441 291 458 90 505 340 509 292 506 273 499 275 481 298 487 160 506 260 444 244 461 308 411 283 430 102 450 320 494 174 452 277 406 254 451 246 492 259 340 242 496 216 443 313 503 307 346 101 496 259 438 136 509 149 506 224 512 272 478 202 421 176 482 271 407 193 495 288 511 258 456 189 506 320 510 166 492 190 486 344 510 173 500 242 435 269 396 84 511 232 453 284 471 155 474 195 472 241 425 220 457 185 509 258 471 250 395 207 447 282 445 136 465 218 431 271 458 293 469 210 403 170 512 247 473 127 482 180 488 308 500 276 365 213 484 201 492 275 467 211 419 338 351 257 512 161 501 224 501 227 335 271 461 285 399 163 486 235 509 293 477 309 423 186 485 315 380 285 337 224 443 238 457 91 501 302 504 252 458 281 422 203 464 242 463 287 486 281 488 160 473 197 454 221 396 290 392 238 470 218 493 264 465 253 456 199 446 284 511 265 509 203 440 277 462 219 450 309 386 144 508 190 502 322 454 196 505 144 499 251 472 300 486 210 431 245 427 257 436 244 425 242 502 218 445 215 471 99 497 272 484 257 477 212 505 314 410 245 473 265 466 291 445 258 386 163 485 221 507 294 481 344 509 120 479 283 492 211 440 282 475 224 497 227 489 238 509 244 430 256 421 343 510 246 470 106 501 198 480 262 395 283 493 261 469 276 472 205 508 85 507 290 449 212 475 306 487 301 452 292 463 234 467 103 510 301 469 258 433 241 492 197 452 96 475 305 428 202 472 254 422 283 507 253 423 318 494 150 492 226 491 180 496 247 429 240 364 228 503 257 469 247 479 242 474 261 463 285 467 288 459 399 422 289 452 332 410 277 434 291 423 102 470 292 391 322 373 283 457 260 478 153 504 273 471 292 441 202 454 227 508 271 438 280 457 273 426 213 442 250 490 276 438 218 483 248 467 301 476 242 411 256 478 105 511 281 474 276 454 338 497 275 459 301 463 240 386 263 485 335 445 249 431 263 471 316 365 163 506 252 347 160 445 249 418 303 430 246 413 248 478 282 489 269 456 219 468 252 464 291 443 276 505 118 464 248 438 193 498 216 507 247 438 117 495 300 376 231 447 297 506 234 397 286 487 301 502 305 481 179 429 216 434 248 503 245 406 280 485 278 404 216 474 167 466 162 482 243 505 303 423 190 484 216 442 297 512 101 446 261 436 295 418 96 450 241 412 232 447 122 501 242 485 271 476 151 510 218 491 249 359 183 484 273 466 230 455 351 439 242 418 438 416 112 506 313 500 98 503 253 427 279 431 243 484 248 447 131 477 256 458 298 418 271 456 282 436 357 492 246 493 188 467 295 443 332 310 310 461 262 460 231 480 303 494 245 495 284 441 279 512 271 459 193 435 228 492 221 504 198 479 238 471 95 491 99 512 212 432 253 449 244 410 121 460 258 466 291 486 213 350 236 472 280 481 292 500 162 512 206 432 122 424 192 456 321 321 230 485 94 493 184 487 294 445 96 508 125 512 101 482 218 461 288 467 234 481 225 494 176 470 250 486 280 467 261 465 231 458 160 487 258 459 282 407 287 450 265 484 266 452 245 500 214 486 251 473 238 504 116 511 214 501 269 490 202 487 264 445 127 436 184 468 264 424 204 495 259 507 266 495 244 494 254 463 227 477 229 438 312 481 239 440 320 474 284 437 284 479 278 443 286 512 253 361 187 452 282 469 192 506 213 493 195 412 228 452 194 500 166 512 93 451 295 433 209 512 273 489 196 431 204 476 243 424 231 508 280 492 283 448 155 502 243 494 135 488 234 391 228 461 269 474 224 463 224 385 233 491 110 498 232 464 102 502 222 508 215 461 319 487 220 359 192 495 280 498 160 492 276 477 152 491 263 479 144 507 227 487 273 441 250 491 289 396 236 461 305 451 101 512 339 410 208 492 181 489 278 505 126 459 243 450 172 489 246 507 237 401 211 480 192 505 152 495 267 408 315 473 238 459 232 451 233 469 178 419 292 409 300 409 235 434 208 457 134 499 179 503 371 411 174 508 163 510 243 443 271 455 309 464 229 476 255 496 251 466 103 396 307 511 219 497 295 491 102 494 94 489 211 510 274 511 234 474 257 472 169 510 284 249 94 497 229 504 289 466 296 506 309 485 112 501 272 488 297 492 283 423 287 512 235 441 183 497 251 480 260 471 115 510 253 508 94 510 271 432 261 498 143 494 298 453 262 471 264 438 315 447 176 504 173 493 300 505 241 422 223 482 213 443 247 443 101 457 235 489 298 435 249 494 154 504 197 490 317 447 271 395 85 512 277 472 295 384 246 455 286 458 145 484 258 478 284 417 352 511 260 463 197 511 280 478 190 507 273 509 93 467 266 406 257 366 223 464 246 441 237 465 233 501 214 468 261 507 189 505 210 464 228 250 263 505 223 508 210 488 101 497 215 458 262 388 277 499 204 507 88 502 207 511 272 502 258 512 300 511 192 501 322 485 240 456 291 457 296 509 272 383 207 485 271 428 224 502 256 491 127 508 313 473 199 500 301 431 317 402 270 489 217 447 118 495 256 443 93 481 247 471 303 497 302 465 165 435 252 495 221 490 258 451 322 392 260 505 300 474 214 451 256 482 287 476 248 442 282 433 308 457 209 449 189 499 308 436 316 502 261 497 127 510 267 457 117 478 200 511 187 512 274 484 224 489 199 476 166 475 234 396 299 412 252 469 233 416 204 496 275 279 248 471 218 490 289 507 278 461 247 444 247 507 283 463 294 397 164 499 240 482 259 380 261 366 199 483 228 491 194 505 278 420 261 470 116 505 252 484 209 479 315 503 317 415 175 431 222 417 233 472 267 469 254 445 168 505 276 416 229 430 100 506 254 419 230 419 168 441 289 391 167 413 183 466 182 476 245 505 192 502 104 507 103 472 315 304 126 493 248 498 308 505 291 460 186 447 306 471 252 434 310 507 262 475 346 442 226 461 261 456 220 452 97 484 251 485 325 505 84 501 371 323 280 503 274 441 191 511 329 437 348 469 92 479 292 459 213 502 278 475 228 496 282 504 238 475 298 496 366 439 212 461 285 512 275 444 252 501 280 506 251 455 269 464 285 469 246 488 290 473 313 494 101 492 164 497 96 482 214 500 321 511 200 496 270 417 260 451 203 467 183 504 286 511 301 483 226 376 191 505 224 408 261 183 349 478 232 237 226 447 262 446 270 471 237 473 253 487 185 428 209 503 249 466 200 488 207 455 256 501 254 490 247 475 238 334 275 497 316 496 236 459 200 489 304 432 291 415 302 496 201 437 300 447 193 496 179 461 195 507 226 432 229 500 226 488 222 449 341 508 208 449 213 503 258 415 208 468 297 456 263 386 220 493 281 491 287 370 222 390 273 465 290 453 172 510 188 322 267 485 332 406 232 459 308 437 304 308 286 448 282 450 179 476 140 510 167 481 248 409 101 501 163 450 235 490 200 464 161 491 190 470 194 470 155 512 170 476 123 511 288 463 301 487 253 446 178 503 96 505 294 449 315 507 308 428 242 492 291 499 187 415 308 507 183 505 313 484 280 271 200 465 152 501 233 462 273 423 219 498 278 487 310 511 276 484 185 418 267 454 108 474 249 402 183 462 295 447 132 503 234 455 259 465 216 471 260 487 312 480 217 374 225 473 282 508 271 453 202 502 278 438 253 511 294 470 287 415 217 473 296 411 201 475 223 463 245 454 293 387 247 412 274 406 142 508 307 387 250 431 226 479 169 499 233 439 182 490 223 479 209 432 211 501 219 444 263 452 104 468 276 461 218 469 228 435 272 362 244 479 189 508 90 501 92 507 311 501 180 475 253 451 285 460 176 510 202 492 233 452 306 493 272 439 257 395 109 481 308 508 199 481 257 485 216 452 252 426 281 470 334 463 280 399 225 487 306 500 200 434 251 441 246 447 244 505 284 501 232 472 292 432 208 494 286 508 247 480 235 450 271 327 265 495 213 508 109 497 273 395 181 486 215 485 288 496 307 441 234 425 355 401 241 416 273 457 170 509 223 503 242 499 119 507 276 392 221 483 291 510 200 493 297 498 198 503 317 509 173 487 92 477 284 382 273 460 230 448 268 460 211 456 203 450 202 504 195 490 315 497 276 471 238 454 104 482 207 497 248 418 265 500 263 491 181 482 166 382 228 497 231 507 261 450 189 442 254 506 256 406 100 489 322 496 233 455 313 414 205 491 310 491 259 490 324 496 396 503 119 511 189 469 222 458 224 474 176 499 214 487 177 502 243 377 206 502 196 499 179 479 317 468 275 506 262 485 250 464 205 499 198 501 106 480 210 479 268 424 286 461 268 423 91 494 278 490 108 508 247 396 207 505 240 431 282 420 182 452 279 474 255 374 213 448 192 508 251 406 274 394 213 434 227 483 146 497 196 492 304 496 227 460 310 512 201 391 271 466 237 489 259 441 307 462 288 468 205 456 292 484 248 497 255 503 296 496 205 504 297 434 185 469 260 424 150 510 269 435 290 398 203 479 242 462 258 476 319 436 197 432 336 403 292 486 266 407 96 442 235 458 234 486 355 433 155 487 281 506 274 434 237 435 112 494 216 463 283 395 250 493 222 460 215 503 214 464 262 494 251 483 229 495 228 486 219 465 120 504 261 464 274 411 242 487 197 502 239 476 235 444 239 438 307 497 287 465 263 494 246 429 245 494 176 500 222 462 210 512 307 315 284 493 257 492 271 435 289 482 308 503 256 399 261 492 279 449 102 497 335 359 268 512 229 502 268 418 259 489 324 466 287 421 263 497 241 483 307 488 273 508 202 456 265 488 204 483 242 436 225 461 222 479 187 473 277 507 253 492 233 484 244 443 193 510 299 508 226 423 105 506 226 484 108 507 300 498 265 499 252 502 260 389 199 478 246 436 287 424 228 508 281 468 350 493 199 504 226 460 186 461 272 485 328 406 278 469 278 471 108 496 300 507 307 449 225 479 241 437 256 412 229 492 148 491 244 418 210 405 99 460 298 473 194 402 279 487 268 481 295 479 273 476 286 509 149 491 258 464 191 472 256 489 196 508 251 428 211 452 208 491 275 441 175 281 196 450 193 460 280 476 295 435 303 476 277 461 288 474 228 414 264 434 211 489 232 456 275 504 248 480 208 493 214 498 120 501 127 506 191 497 230 461 188 508 299 430 204 452 117 512 299 427 237 459 294 498 158 507 238 463 226 468 235 494 298 475 235 466 243 472 314 480 195 485 244 477 209 510 104 474 239 485 107 471 251 502 225 467 229 471 295 465 192 412 274 453 232 507 235 505 296 427 184 491 271 372 189 509 146 503 215 383 204 480 336 509 253 471 204 503 201 474 260 447 287 478 288 469 299 457 228 471 269 496 288 422 114 498 219 389 235 430 151 492 248 509 288 489 210 458 264 456 273 477 184 492 317 461 198 486 222 477 152 512 254 511 265 489 247 360 101 493 220 509 259 474 108 500 193 463 179 485 124 473 285 373 186 453 211 437 310 478 94 500 336 391 245 482 266 466 284 465 281 496 355 436 255 455 222 439 241 481 119 505 330 475 253 443 281 387 198 460 306 440 102 479 265 444 195 439 234 456 247 474 347 501 296 507 179 484 241 474 273 394 207 473 182 473 279 312 269 491 295 489 146 509 228 443 212 445 319 473 281 460 255 430 298 510 258 401 163 499 210 477 86 494 278 441 290 489 329 487 252 444 259 456 263 444 270 501 120 493 141 483 222 427 186 498 225 475 216 436 263 448 265 462 274 503 224 506 219 456 176 494 195 467 252 477 204 484 282 439 290 506 154 509 281 415 299 491 235 501 203 485 340 389 238 437 90 508 231 464 173 511 168 496 284 427 246 483 173 502 100 504 271 474 224 492 269 471 265 455 196 480 236 475 281 501 223 500 265 474 114 477 262 367 181 507 103 491 191 500 208 498 89 509 292 454 309 380 244 343 230 475 236 502 287 471 270 410 182 460 289 496 201 473 127 405 197 503 312 456 225 428 293 501 251 438 195 506 255 469 227 393 286 486 220 375 196 496 162 508 198 508 282 466 324 503 163 509 209 408 234 416 98 504 307 468 210 473 222 337 277 466 95 495 273 429 246 402 191 504 198 506 255 462 261 474 219 351 259 439 217 503 291 465 272 458 262 512 248 427 218 416 228 480 205 465 234 473 257 447 202 468 328 398 303 452 258 510 258 489 296 480 197 434 242 506 253 432 210 491 299 511 283 441 303 507 218 497 231 474 99 494 250 468 152 460 284 426 256 470 278 462 91 511 191 506 269 383 236 471 224 427 219 471 288 376 176 489 323 431 116 488 300 488 220 510 205 512 208 416 252 431 241 380 280 393 186 501 243 467 170 443 207 449 239 441 192 478 276 478 254 437 233 495 351 500 294 474 301 464 267 432 290 486 249 440 275 434 310 499 275 510 258 419 299 495 274 426 204 417 274 440 123 501 250 499 331 502 188 496 273 428 255 482 269 507 235 435 284 497 276 489 217 498 298 493 265 503 257 464 191 494 219 511 182 447 234 424 245 460 297 488 185 499 294 461 260 378 312 398 266 403 289 464 118 405 228 482 297 487 103 502 232 500 190 450 280 407 266 462 234 454 309 479 279 504 296 361 256 434 285 433 270 311 149 502 223 511 249 477 236 506 247 511 245 477 269 498 167 470 249 501 305 510 285 504 220 488 278 478 271 489 320 414 265 431 218 442 302 502 262 469 227 420 274 461 233 432 253 468 279 429 255 489 225 339 246 424 213 494 297 496 202 503 103 480 233 500 223 411 93 469 292 464 216 497 94 502 147 504 290 495 234 451 200 478 272 507 236 413 246 350 266 443 227 426 171 488 91 507 271 480 314 488 259 428 216 458 295 512 201 505 320 493 201 468 243 509 228 466 296 461 277 469 193 509 106 507 228 457 284 498 301 433 225 480 255 378 277 487 234 443 168 510 262 497 260 429 279 498 287 489 170 390 256 465 231 498 211 457 291 442 246 468 315 501 119 486 252 418 246 449 223 509 281 479 164 504 250 466 150 511 250 447 169 416 210 485 150 476 292 511 209 488 238 427 252 478 246 499 227 499 165 510 153 505 263 432 163 500 228 481 274 492 254 496 154 486 261 425 315 387 299 413 286 397 340 498 259 475 316 478 294 504 295 417 234 441 280 463 289 486 271 437 260 473 191 508 117 509 266 498 237 444 160 494 165 431 287 463 199 417 213 459 266 470 305 509 102 504 335 512 269 438 171 506 121 503 255 451 226 469 262 496 242 472 237 439 250 498 184 460 291 508 333 359 236 496 313 502 239 481 219 447 320 488 160 497 226 477 245 478 255 471 240 433 289 457 153 493 207 479 277 460 227 451 238 476 228 413 253 465 253 457 245 504 135 509 207 488 266 504 250 392 284 436 214 470 345 354 197 427 191 493 241 486 277 411 331 409 307 493 269 450 225 458 246 435 227 446 247 484 214 472 260 507 237 398 259 468 216 441 263 504 246 508 300 509 188 481 234 470 182 497 265 449 239 470 245 442 196 501 201 494 291 503 311 495 193 512 263 502 168 471 229 480 244 434 179 490 112 455 248 494 232 483 205 494 284 495 263 499 303 437 239 497 175 490 203 419 250 459 198 435 331 511 170 504 277 503 229 459 197 510 238 394 223 456 275 447 200 469 259 432 267 478 248 506 229 458 299 489 315 496 251 506 183 468 242 440 181 487 235 475 244 504 218 404 203 476 90 502 353 449 236 288 242 511 221 461 311 272 218 496 117 510 249 481 235 442 243 495 228 483 107 499 350 434 252 397 236 464 260 484 208 442 251 467 279 419 218 451 248 502 121 504 256 488 240 490 293 470 294 471 200 508 284 505 85 487 310 509 263 468 248 411 188 494 218 499 271 454 264 480 198 466 108 460 280 462 166 448 106 496 262 477 311 497 133 490 291 476 337 494 301 510 156 509 200 453 257 489 138 509 197 487 104 487 304 358 273 409 304 374 232 486 268 478 281 467 266 475 217 468 216 384 279 434 228 478 233 461 300 469 189 468 142 492 229 456 407 492 228 404 313 436 223 505 195 478 276 470 270 368 266 404 200 459 97 481 276 419 274 400 160 510 230 452 205 489 273 462 268 473 268 496 254 462 213 491 273 464 208 510 342 350 297 463 254 454 103 482 245 412 231 509 278 439 266 503 279 506 265 458 280 439 295 440 293 482 95 510 216 502 268 463 290 461 101 495 243 461 228 500 318 504 302 471 307 499 288 270 142 498 305 511 88 506 293 508 266 501 269 512 271 503 296 503 105 505 190 428 299 474 110 488 246 461 277 477 288 504 278 430 107 497 207 413 267 392 188 500 264 478 226 452 242 508 276 466 173 503 248 448 279 407 116 480 175 501 240 440 212 434 258 461 278 489 226 494 255 425 217 460 217 510 274 428 245 440 238 417 279 462 198 493 212 507 271 468 328 507 209 455 299 458 256 498 224 451 220 482 246 472 232 488 257 500 306 430 132 390 211 470 291 502 276 435 232 512 245 503 332 415 159 505 209 480 134 510 248 489 213 498 103 495 176 449 253 495 261 405 274 416 342 457 310 503 276 502 221 487 300 457 288 501 173 458 92 494 277 502 234 491 289 494 258 465 243 480 307 504 288 461 290 471 267 492 262 379 314 493 109 507 284 481 264 467 153 498 211 476 382 499 260 448 239 389 101 488 259 501 102 501 197 494 269 447 239 453 239 423 453 449 195 482 248 416 269 475 262 400 211 491 276 482 217 512 171 497 86 511 146 478 322 450 202 471 260 468 274 463 113 481 265 442 340 424 306 418 309 460 270 458 264 461 336 452 239 416 252 408 245 501 254 381 245 431 240 500 252 508 265 447 238 510 215 447 244 462 240 429 280 511 197 507 286 465 230 379 171 479 111 488 223 488 236 480 199 507 278 427 300 503 238 505 250 496 310 486 261 494 340 494 115 485 256 487 271 470 244 487 231 396 240 504 232 501 247 386 258 411 285 394 256 414 196 507 196 511 109 490 205 439 240 466 97 509 271 450 215 436 217 462 116 506 313 427 189 491 265 505 234 457 117 485 187 488 209 506 305 483 301 496 198 499 254 475 243 421 261 447 288 506 226 433 273 505 309 451 313 459 280 411 290 465 307 500 259 492 221 414 256 463 241 466 155 439 294 465 274 459 223 501 254 497 228 495 96 504 207 493 229 499 263 478 278 504 287 468 237 424 316 245 262 482 251 496 285 509 90 511 224 470 324 457 215 487 258 467 284 494 256 511 206 508 103 475 215 507 204 470 281 466 268 454 216 481 218 488 261 455 264 507 302 499 282 458 225 493 244 503 113 509 261 403 304 437 241 512 353 475 285 489 290 504 274 491 91 500 98 483 244 470 242 505 207 510 147 473 272 452 260 462 169 462 227 472 208 448 178 509 192 491 264 436 306 496 151 479 144 492 223 395 279 417 266 467 214 489 272 392 296 446 198 489 300 494 291 495 256 459 195 313 194 484 213 490 198 464 242 459 231 482 324 511 252 432 187 468 177 508 233 504 282 491 231 418 115 511 296 505 199 510 221 495 240 423 106 511 261 503 281 502 209 445 171 487 250 437 234 475 219 470 251 510 275 476 193 457 299 467 208 437 307 438 299 502 181 499 300 482 246 462 257 484 91 506 262 487 247 391 239 448 258 501 276 415 227 486 240 469 102 500 286 504 197 508 248 492 301 512 230 487 104 510 292 487 206 462 251 491 220 326 208 386 187 499 291 485 264 505 211 486 102 477 129 501 102 496 288 457 259 451 251 493 180 446 227 497 265 438 294 484 301 491 289 470 264 493 310 488 127 449 231 472 229 488 213 506 91 485 290 493 325 426 333 505 249 490 278 474 170 485 311 504 94 484 289 511 226 455 248 486 181 504 260 482 276 494 287 418 247 428 237 474 120 511 294 466 243 481 254 428 94 490 124 501 240 464 277 452 93 497 219 466 293 447 245 496 321 466 178 510 252 456 306 498 228 458 160 507 277 448 319 344 105 492 299 490 274 476 277 498 311 494 204 473 230 476 253 442 204 472 247 508 307 444 299 453 283 503 257 497 317 508 264 497 89 507 292 461 194 479 266 440 229 452 209 486 238 440 241 493 95 506 256 474 104 493 189 475 279 443 266 433 200 500 232 358 345 461 153 476 223 453 146 498 124 512 202 499 167 510 247 481 257 504 258 457 205 501 90 493 280 497 230 450 283 453 284 469 86 507 224 458 235 493 102 437 268 500 242 451 238 450 271 494 95 496 261 501 265 435 203 506 216 505 259 482 290 435 308 447 302 482 221 503 321 490 238 385 206 489 280 447 294 319 296 464 267 486 309 489 246 423 167 495 229 461 258 413 101 499 276 465 185 496 228 511 242 489 298 507 222 490 226 446 290 412 246 391 342 425 220 416 243 471 180 456 221 499 283 394 186 506 263 492 279 426 316 397 248 477 283 456 279 483 360 484 178 500 281 485 180 508 303 499 271 505 289 443 213 478 264 494 263 509 284 478 270 435 275 507 288 415 252 364 222 474 195 511 186 492 283 386 257 456 160 505 238 336 190 453 251 487 266 460 236 503 229 468 237 496 243 420 278 494 272 459 181 495 285 402 341 465 233 440 169 498 241 450 210 468 282 483 230 481 241 510 319 466 239 487 264 496 208 483 177 512 255 512 268 378 227 471 251 460 324 385 281 492 277 386 315 469 251 429 235 463 180 494 240 498 251 500 244 448 273 418 300 473 232 470 267 423 215 454 236 386 215 479 303 471 166 487 230 500 240 453 224 469 149 508 236 425 260 469 263 443 293 478 283 502 297 493 233 436 214 477 248 431 204 488 261 431 217 458 252 491 272 453 294 335 344 496 237 492 257 480 245 430 265 490 243 485 280 469 236 478 281 452 208 484 202 437 328 494 204 497 218 329 218 492 280 419 108 501 288 444 277 488 209 483 318 495 240 477 105 495 248 487 242 484 279 478 287 433 195 508 132 509 199 486 207 463 304 490 227 482 257 486 272 448 233 490 172 478 110 510 196 477 139 489 214 449 190 509 287 455 249 447 94 498 332 447 128 477 125 490 295 482 245 487 363 426 317 466 312 495 227 509 339 512 332 431 255 477 252 387 286 395 284 449 289 435 91 504 225 345 262 476 249 504 215 493 212 457 258 493 257 468 319 508 108 497 246 474 301 471 303 406 105 496 336 503 187 496 184 444 224 481 280 451 254 402 290 507 283 475 230 443 172 465 158 504 298 478 298 498 248 430 280 501 212 415 170 497 216 465 87 507 256 396 260 492 305 468 205 495 344 412 234 503 167 509 259 502 201 502 203 495 239 494 151 494 176 492 215 498 239 296 320 500 258 448 261 483 252 416 274 512 143 509 354 506 235 506 248 402 280 494 121 482 252 421 199 503 238 512 87 508 235 488 228 504 269 509 225 499 288 503 207 443 308 506 235 472 226 456 290 481 257 473 216 467 321 435 235 391 225 486 285 476 245 466 289 383 105 473 217 449 268 133 272 494 316 456 90 480 266 446 263 507 99 506 274 510 254 461 240 445 244 498 197 478 177 485 184 474 302 362 275 428 195 473 228 487 200 467 261 481 125 502 287 500 258 502 223 499 155 485 158 492 231 406 85 491 123 512 98 497 299 484 266 438 182 499 179 491 275 414 213 464 267 480 219 494 226 503 189 484 217 499 282 357 284 474 267 477 263 489 224 508 169 492 176 509 254 466 240 452 238 492 198 488 268 468 251 478 240 458 218 436 222 485 248 465 256 484 227 414 244 506 264 510 290 496 217 492 236 470 99 510 265 436 323 471 275 474 260 405 209 458 249 482 257 431 268 495 252 485 260 502 270 468 218 502 214 409 313 485 297 446 280 495 263 503 301 498 281 453 284 439 266 509 217 505 286 431 311 486 97 505 213 487 187 410 96 506 168 495 313 434 294 478 270 419 271 451 261 444 257 499 237 502 260 419 213 479 270 491 275 470 236 454 292 405 166 472 268 449 256 483 255 460 286 441 278 385 310 369 295 504 237 479 253 504 213 492 353 496 103 499 267 471 194 446 284 425 253 475 237 483 316 483 185 485 300 418 241 428 304 498 293 459 270 476 240 465 262 413 143 492 289 356 246 489 202 505 198 468 219 356 222 488 250 412 212 506 168 497 103 486 253 374 282 488 221 437 270 494 277 497 225 474 306 491 295 490 229 440 222 487 248 483 202 488 253 510 290 447 276 425 296 286 238 488 293 507 175 508 214 511 141 496 302 463 263 453 225 501 190 510 321 500 267 507 100 493 205 479 307 494 266 411 114 508 264 451 241 468 201 499 167 475 199 508 254 502 199 493 240 508 320 508 321 427 111 501 216 509 222 494 323 508 231 481 284 470 280 329 253 417 110 480 217 506 244 507 89 487 241 464 306 321 92 506 320 374 252 465 295 507 293 473 99 495 280 474 223 493 100 432 277 468 239 486 233 474 170 502 190 459 262 420 273 456 183 502 235 460 229 386 120 508 295 425 331 499 176 481 217 504 302 484 272 491 209 401 239 463 95 492 174 496 307 481 301 481 264 484 202 464 273 433 223 441 252 463 248 470 388 510 174 505 238 467 237 507 141 510 253 444 285 494 257 490 230 427 258 412 271 488 218 467 97 496 273 463 269 455 270 443 120 510 287 466 290 379 117 506 274 508 315 498 206 468 180 498 205 466 264 468 263 508 330 466 237 437 269 420 212 493 193 484 223 486 230 494 265 357 90 510 293 455 223 476 271 430 285 475 323 509 178 477 211 459 267 450 392 434 262 505 162 511 258 460 225 418 272 463 176 472 281 480 287 502 225 496 273 425 264 453 265 510 240 507 101 486 161 509 169 470 129 503 106 494 273 506 271 478 241 508 222 505 242 446 238 449 198 490 186 479 257 439 254 395 220 474 265 464 238 489 228 465 219 492 221 497 199 484 265 497 124 506 100 473 223 443 311 464 114 510 293 437 303 463 324 504 239 450 273 447 160 503 218 456 249 430 278 449 254 489 301 494 209 392 281 412 233 497 268 435 286 439 291 467 222 437 267 449 193 456 269 501 279 500 307 489 259 495 227 469 244 447 303 447 338 434 242 503 295 387 240 506 144 501 263 480 294 429 253 512 268 421 95 507 184 511 306 511 104 504 169 482 166 496 270 441 303 505 174 492 242 416 281 374 292 497 232 491 286 442 295 470 238 478 254 404 271 484 257 429 256 469 276 488 296 511 345 435 262 448 240 470 303 302 279 410 253 445 241 478 251 495 118 485 294 454 242 512 252 462 128 500 205 493 225 457 284 457 226 482 215 512 270 485 279 448 293 462 89 500 144 489 222 486 176 478 155 457 205 496 346 505 278 488 304 487 230 471 185 490 156 500 280 489 345 477 213 483 282 477 229 432 262 484 262 503 220 476 208 485 259 462 191 467 268 506 266 444 245 438 181 492 261 454 297 444 254 501 173 508 302 389 319 424 294 503 263 454 240 414 297 418 227 495 291 461 228 386 227 464 297 403 324 486 279 501 219 453 292 450 235 496 206 433 295 505 244 499 297 495 241 430 258 488 223 472 187 472 216 501 185 438 180 474 220 481 192 489 316 458 133 484 272 424 276 476 211 488 102 466 245 433 293 484 258 487 245 464 230 504 180 478 251 482 131 504 327 476 200 446 269 441 267 483 303 458 239 483 260 486 140 503 251 512 291 463 258 480 279 496 220 502 189 482 291 504 275 480 262 495 255 466 320 477 228 450 248 496 262 490 224 495 156 511 282 412 234 431 282 366 159 321 238 444 109 452 104 494 265 425 282 474 278 450 192 471 239 488 91 510 167 464 206 500 283 462 249 439 312 360 203 475 255 422 237 368 171 351 280 491 275 446 107 463 300 499 217 487 177 488 286 462 185 487 269 466 110 478 301 467 103 508 225 505 239 498 201 461 233 459 268 494 226 490 312 428 237 470 90 507 210 482 325 486 293 481 244 429 246 510 265 248 224 456 276 491 258 379 129 407 257 452 225 407 212 488 204 490 185 447 240 435 259 351 240 491 240 489 229 467 330 485 205 443 271 441 251 435 300 433 232 457 111 511 237 440 94 485 97 492 270 439 195 480 276 508 245 435 306 463 243 462 188 456 277 493 220 501 181 483 306 452 244 457 115 504 251 464 216 469 196 479 254 482 323 437 262 506 235 456 204 510 290 440 328 356 270 502 165 504 306 506 347 450 275 451 268 462 283 440 197 477 233 465 239 445 137 477 159 507 244 502 312 423 130 508 187 506 291 482 267 405 272 490 261 458 263 458 105 468 200 476 269 502 292 474 197 455 334 398 252 407 105 425 225 490 287 491 285 505 283 438 205 482 258 469 259 435 126 509 289 415 335 495 304 365 172 391 245 414 165 494 308 490 248 459 202 470 318 425 231 450 242 504 225 502 259 353 231 431 287 411 284 402 231 506 292 451 344 420 253 450 276 405 276 376 239 482 310 429 269 487 241 509 241 449 266 449 265 479 196 472 310 476 300 390 229 497 298 444 253 500 239 511 117 481 90 512 255 506 95 504 245 449 244 407 213 485 199 400 270 505 269 416 177 503 107 494 345 432 224 455 218 489 277 368 245 502 265 480 242 494 297 474 231 504 300 441 264 464 260 474 280 468 211 454 144 510 247 472 233 419 297 503 249 470 178 389 168 483 204 506 167 505 216 427 292 435 290 502 286 501 280 480 344 511 308 484 248 462 189 497 127 511 172 467 173 477 210 476 195 493 242 490 241 447 181 496 255 472 270 479 100 505 248 511 342 488 225 476 237 457 216 457 245 497 304 488 348 467 233 486 274 423 274 488 243 413 281 455 250 480 245 434 152 490 93 494 249 429 248 445 248 505 282 386 326 489 162 495 233 508 267 498 291 506 282 485 273 482 254 452 187 508 222 451 335 426 284 369 268 508 97 482 219 508 243 498 251 507 201 479 263 511 218 472 234 494 252 448 255 495 425 475 104 503 235 427 209 467 109 482 205 509 218 471 226 506 305 465 279 507 232 489 309 442 257 448 219 500 234 413 260 457 237 495 270 393 241 438 254 457 201 420 91 482 265 507 275 502 274 494 285 499 286 449 251 497 212 498 287 490 214 469 197 488 185 500 192 371 258 481 251 504 316 462 273 443 284 492 278 437 315 451 290 363 174 471 206 434 291 469 293 434 266 428 139 503 270 504 237 468 257 419 194 468 300 331 321 476 281 510 176 498 255 476 273 450 249 493 259 461 267 493 239 466 270 469 92 463 329 507 228 467 277 509 285 498 232 440 276 503 300 492 256 438 235 462 379 497 243 448 109 484 241 403 267 466 329 388 270 499 265 501 203 468 217 371 249 417 224 475 196 481 253 483 313 483 249 457 239 500 256 510 112 512 221 330 292 489 312 451 264 481 162 503 275 494 270 467 225 409 188 505 284 448 276 464 332 485 208 467 288 512 267 511 302 495 269 453 199 509 202 495 260 477 242 483 235 454 129 372 247 392 233 502 270 495 281 498 242 427 225 477 267 506 237 448 220 469 224 494 251 494 220 487 131 383 232 499 297 438 388 356 250 454 284 434 240 374 236 448 97 502 167 454 235 437 196 454 176 501 242 425 235 478 220 441 225 455 223 448 212 456 181 494 277 505 256 418 256 504 262 450 201 407 275 499 261 475 215 473 96 511 209 465 249 491 230 507 143 507 193 492 88 507 191 480 251 486 189 492 247 493 313 498 242 442 244 478 221 457 309 396 284 473 315 407 239 501 302 507 254 474 266 510 273 467 245 423 216 490 185 501 241 480 233 437 265 448 225 511 303 484 248 456 243 423 185 480 91 512 247 485 188 506 279 461 306 469 259 477 176 496 229 511 103 492 179 496 230 462 213 471 251 457 222 496 138 508 214 450 272 465 227 443 243 407 241 434 202 500 228 421 200 456 234 453 103 494 202 509 248 476 177 468 293 440 201 496 250 442 108 436 269 489 261 451 225 462 320 479 291 487 330 445 260 483 255 467 253 474 256 486 108 506 244 474 169 474 179 495 273 493 276 430 180 486 273 474 202 478 201 456 220 489 205 510 252 441 238 511 207 483 345 302 262 461 267 491 260 455 97 497 241 371 222 445 181 477 291 492 219 503 168 503 243 502 162 465 320 492 231 500 327 436 267 395 285 488 220 462 209 474 225 436 369 475 210 467 263 437 278 426 154 502 286 475 239 456 234 479 246 480 277 470 246 465 207 439 224 473 137 473 183 474 241 490 279 502 202 484 260 460 290 491 235 491 231 459 256 400 283 486 257 505 230 489 239 467 283 510 249 507 203 434 207 418 231 492 276 480 240 484 251 449 123 510 233 468 234 484 191 405 317 445 283 498 209 477 250 463 229 416 209 505 230 488 271 463 255 461 272 509 166 511 270 500 292 509 204 493 242 458 277 467 245 402 239 449 100 511 236 479 245 467 218 479 247 498 272 464 226 434 236 450 233 454 261 485 289 409 201 501 203 491 235 474 124 508 268 479 202 491 258 507 273 490 271 482 273 413 222 329 232 479 251 488 238 400 93 498 207 478 221 440 311 509 276 457 202 507 161 458 212 485 279 458 183 500 335 405 268 504 258 383 291 507 197 460 247 456 283 458 278 433 298 451 248 439 244 468 186 497 145 510 238 434 225 504 216 397 122 455 252 356 285 500 297 509 225 509 203 500 295 434 198 491 249 488 175 494 181 479 254 413 141 505 177 469 297 363 267 499 93 503 263 481 280 500 307 473 270 413 114 471 210 508 305 482 89 502 194 499 219 477 254 479 326 500 214 510 220 337 214 497 107 501 185 473 218 509 287 505 93 505 224 510 227 458 243 454 187 501 223 468 286 455 262 488 210 419 221 510 211 460 242 465 286 497 258 503 309 391 295 511 246 467 301 505 272 402 331 492 231 454 210 503 101 491 276 452 238 502 207 453 124 510 145 488 293 443 293 418 218 474 318 440 283 443 266 482 195 505 213 462 320 511 242 478 195 502 250 387 263 467 185 479 278 483 254 415 296 372 110 466 203 508 101 480 355 497 302 486 263 424 197 506 234 488 236 505 249 381 279 468 175 507 178 488 249 427 319 460 263 496 258 479 338 459 233 506 235 503 223 440 243 483 195 451 309 463 186 481 89 506 192 411 249 508 232 473 242 491 145 511 216 488 273 478 261 418 209 446 97 476 255 494 249 464 279 455 182 486 292 478 280 487 241 507 197 482 227 463 222 509 229 491 256 368 280 483 289 421 264 446 245 462 267 509 347 420 301 492 204 500 218 465 293 511 204 499 283 490 198 475 284 413 173 507 183 510 214 499 288 470 283 437 297 501 206 473 258 504 229 503 167 496 341 392 191 492 203 474 291 505 227 501 220 478 281 408 281 389 267 464 246 509 176 466 303 434 283 381 248 457 326 508 235 387 217 509 301 434 142 487 255 490 132 511 253 470 193 478 237 497 215 491 256 508 214 493 219 432 230 402 182 448 304 505 283 483 299 499 183 467 270 486 209 491 201 424 254 505 235 500 255 479 190 482 236 508 257 437 281 384 192 484 193 504 264 409 198 451 245 468 239 462 273 510 118 504 241 505 281 507 104 500 241 489 293 490 278 463 198 507 242 510 204 466 304 493 195 494 233 478 259 478 303 475 244 491 243 499 200 441 178 495 128 490 250 511 194 498 244 446 241 491 204 504 255 435 239 422 265 421 258 472 253 426 286 478 256 500 276 510 201 467 184 419 195 491 232 498 211 500 263 487 205 483 230 509 300 478 241 499 228 494 249 458 286 476 100 460 246 505 170 511 240 439 236 436 248 475 239 468 289 432 269 448 311 511 265 454 217 435 286 472 315 486 231 491 172 494 306 395 287 495 94 503 312 479 229 508 278 381 288 473 266 492 208 500 249 486 338 393 280 421 111 474 184 499 262 405 223 447 287 488 295 473 291 437 247 500 272 503 274 465 203 444 289 499 250 441 253 438 284 500 283 494 224 476 224 445 243 501 274 422 291 459 300 434 267 497 253 430 278 482 245 474 274 437 228 490 234 422 212 497 287 494 227 502 236 486 92 495 241 501 247 454 255 410 236 483 192 424 155 509 104 495 276 436 206 511 274 445 226 389 263 462 176 511 274 490 169 429 255 485 296 510 219 458 263 470 339 452 302 480 299 461 220 496 295 410 253 509 180 511 260 418 192 512 255 437 95 511 259 506 224 471 244 455 183 496 208 446 270 449 223 466 321 432 126 506 234 462 275 488 266 336 265 465 260 433 247 483 226 441 100 508 258 508 294 511 242 390 131 501 325 479 98 502 228 383 319 481 191 489 252 498 208 480 111 492 96 507 270 477 259 476 101 485 324 387 156 508 293 389 188 410 217 508 260 359 144 490 304 463 243 435 148 510 87 511 315 510 121 471 280 433 254 446 265 492 347 482 234 477 274 497 259 508 282 490 178 471 185 504 375 470 145 491 319 450 238 495 189 512 311 493 230 490 167 508 223 487 312 449 164 511 209 485 276 496 173 506 213 441 239 417 121 505 165 454 251 434 290 433 282 503 280 453 237 478 277 465 269 440 171 501 256 334 99 486 236 447 194 502 202 467 114 497 289 500 276 500 265 486 272 500 247 488 232 510 139 506 268 510 288 423 198 478 219 496 253 506 178 484 221 477 281 443 253 503 175 474 219 442 187 491 209 497 242 470 270 428 368 494 236 487 264 414 93 511 299 379 202 496 190 476 113 468 308 510 247 501 218 485 260 431 190 508 287 439 98 510 317 482 201 503 320 497 261 409 202 485 299 505 254 392 278 495 255 474 324 478 324 438 307 431 267 508 212 479 259 397 209 499 262 492 226 492 265 491 255 380 179 488 267 476 195 476 276 479 300 461 105 509 352 495 200 436 110 500 299 501 237 508 230 465 210 480 223 446 280 450 380 460 194 492 215 495 242 447 217 476 100 509 111 509 257 465 281 462 271 446 256 509 225 440 301 488 221 474 211 453 240 496 338 479 215 499 147 509 271 442 270 480 215 489 213 495 281 478 189 465 254 478 193 462 285 472 237 449 272 443 277 494 234 510 224 493 247 509 311 331 172 492 289 411 275 493 270 463 283 470 312 455 323 426 275 509 240 479 258 474 263 477 308 452 183 498 174 482 257 458 278 485 329 495 252 497 288 445 272 374 291 382 285 352 259 509 113 508 242 346 264 472 101 494 230 470 103 500 244 444 283 496 210 466 222 500 158 489 212 474 210 501 193 475 278 498 270 507 279 445 325 417 263 500 163 477 322 486 220 463 254 504 255 507 116 485 279 485 290 478 250 507 278 419 251 503 322 487 234 509 109 509 307 503 293 504 244 493 205 476 303 443 269 362 300 420 247 435 230 480 245 403 292 494 236 407 244 492 138 510 224 507 286 502 275 492 242 493 320 499 282 470 89 494 162 400 261 488 271 498 236 457 127 507 269 505 269 477 282 506 284 385 262 473 293 426 118 487 263 446 248 493 274 499 273 442 302 477 214 410 237 484 290 499 226 412 299 442 227 430 220 505 244 490 188 471 220 506 351 482 285 484 239 505 218 506 261 496 211 462 244 496 254 365 226 505 283 450 183 501 267 441 221 453 214 484 120 498 94 482 246 460 164 505 245 360 194 488 250 487 162 499 128 488 272 487 272 496 301 497 275 496 209 410 281 465 239 477 152 510 129 494 241 498 255 500 283 511 177 491 247 467 216 485 242 495 141 500 299 455 100 498 333 433 252 437 249 479 257 462 267 438 184 486 196 463 259 496 316 474 250 495 242 468 226 454 264 454 222 456 214 400 191 507 251 475 241 462 251 422 234 464 229 487 221 480 227 439 234 466 113 511 211 444 259 471 214 490 276 499 226 504 258 496 218 482 286 444 213 501 304 494 283 497 211 450 237 399 215 470 226 439 298 490 244 495 151 509 272 433 305 472 222 450 272 498 295 444 279 452 195 489 118 506 360 356 273 492 261 495 234 388 100 466 298 488 244 463 234 493 289 481 88 491 347 485 300 489 256 466 282 446 215 494 264 501 187 469 348 499 211 432 269 472 225 464 270 376 194 510 307 464 282 457 303 438 244 426 224 438 256 431 283 429 333 490 230 468 271 457 232 509 224 482 94 447 212 510 248 454 113 476 272 506 253 428 262 507 182 495 242 488 270 455 273 498 237 498 232 432 269 433 220 447 264 450 268 408 293 506 264 479 225 503 251 468 265 376 308 443 212 502 248 425 298 485 265 382 251 442 289 508 146 508 236 492 258 442 232 493 256 435 237 421 106 498 234 478 212 478 234 420 210 511 205 477 209 436 349 480 253 499 269 476 99 509 302 503 164 496 267 448 309 430 208 478 228 510 223 461 252 479 301 482 93 477 175 475 217 502 321 504 86 510 313 493 153 491 250 489 256 433 308 509 204 467 252 507 240 478 229 387 294 485 206 501 196 497 273 486 243 447 109 508 224 488 213 499 211 475 273 391 274 502 293 502 173 498 243 478 284 454 225 483 238 501 209 422 258 505 286 490 272 508 84 505 226 481 252 470 220 483 246 506 199 489 159 501 286 494 210 446 228 485 260 452 316 507 285 493 282 492 243 433 211 451 225 472 267 472 219 490 317 411 249 437 200 471 244 437 287 473 274 496 237 456 206 382 214 509 88 512 167 486 317 455 199 470 219 427 95 501 282 444 334 321 231 476 286 503 268 457 293 496 207 471 122 504 333 469 270 487 211 506 263 495 245 421 242 466 202 479 226 511 295 499 236 430 272 493 199 430 203 477 93 509 258 497 245 465 251 490 183 503 277 464 329 511 261 490 310 463 98 493 252 503 266 451 268 466 221 429 268 491 189 470 280 499 277 501 280 507 187 503 257 470 320 503 267 465 132 506 217 448 125 507 270 461 325 504 189 454 261 489 239 457 104 506 204 461 262 499 111 413 217 478 280 422 243 497 198 487 206 507 246 487 221 511 241 495 251 392 249 487 214 495 105 489 281 440 203 511 95 512 283 482 257 509 281 504 275 498 238 447 201 446 205 468 232 502 211 468 316 430 94 507 234 492 278 451 243 355 240 497 285 464 264 499 311 447 274 506 264 462 303 448 279 471 278 448 250 504 224 440 183 471 197 450 230 486 256 445 239 469 237 499 232 492 179 498 257 482 271 506 301 511 290 439 271 448 213 497 231 457 270 508 205 507 276 442 267 419 306 465 240 473 307 496 140 493 246 486 283 505 291 406 292 498 255 347 216 503 354 487 185 440 234 409 232 494 148 508 277 491 227 500 258 425 291 501 299 463 264 488 329 491 261 499 276 490 120 507 303 503 216 435 229 483 190 488 101 511 285 474 287 423 228 506 221 452 255 457 279 446 221 485 253 433 274 478 201 491 265 502 262 464 210 447 179 501 269 484 121 509 230 459 302 473 189 461 309 486 225 498 296 479 298 481 284 509 264 441 352 457 268 503 138 476 269 481 262 443 319 453 240 405 217 481 238 451 216 453 260 441 238 472 268 493 276 410 306 475 150 509 206 475 268 407 201 495 250 508 287 504 264 489 281 450 206 505 172 511 200 485 226 459 232 434 275 464 218 476 251 509 277 500 211 482 235 504 268 472 113 498 215 505 233 509 231 510 274 489 255 511 264 440 193 508 281 497 258 403 167 504 259 479 188 502 282 472 289 487 326 490 262 402 279 486 260 472 199 443 291 481 292 485 180 490 251 444 279 476 279 439 145 501 223 470 234 505 282 507 308 486 304 409 123 465 217 433 294 507 282 495 313 429 186 490 177 499 405 449 99 475 206 486 91 509 142 505 239 454 276 485 260 466 269 427 244 471 315 459 254 487 221 469 257 457 252 512 268 505 247 451 269 494 270 436 254 465 271 377 251 469 278 470 180 510 238 507 241 496 299 496 276 379 238 418 305 503 98 500 224 461 264 447 266 463 248 472 271 493 254 483 277 483 237 458 225 416 206 495 238 499 290 313 292 488 108 489 201 463 172 485 254 469 219 430 164 470 267 459 118 511 254 507 187 500 247 462 239 435 209 451 230 449 258 431 239 475 294 432 232 497 202 466 217 483 240 475 303 453 100 507 241 484 166 481 218 501 295 287 288 363 245 452 198 476 234 499 206 492 114 511 262 489 271 483 273 485 257 466 230 498 267 475 251 447 268 450 256 454 271 485 215 510 219 479 271 491 232 496 254 316 260 497 242 497 255 493 225 460 230 508 280 465 202 482 171 511 278 506 276 474 259 458 306 407 241 445 343 426 88 509 258 485 303 502 264 500 284 404 208 479 265 417 238 508 191 451 255 464 223 462 259 511 292 501 287 451 278 440 233 505 277 473 260 498 255 445 272 511 291 491 297 414 279 510 200 492 288 435 227 450 203 501 220 494 297 499 240 488 245 507 256 479 190 505 300 442 250 474 211 494 189 489 240 499 269 492 307 495 307 424 218 481 181 502 195 503 261 508 112 504 277 416 247 448 158 487 334 472 102 452 298 440 277 479 162 486 230 503 168 466 258 509 247 504 252 490 116 495 142 509 271 495 210 490 306 485 170 494 282 502 234 433 244 488 286 473 240 511 195 484 256 444 218 478 208 489 301 480 254 493 238 446 248 420 222 429 170 491 184 488 261 511 234 445 288 428 242 432 256 432 265 504 195 483 269 461 236 493 271 497 216 480 201 507 314 464 281 509 260 442 200 481 264 485 267 462 150 481 281 505 236 477 225 380 264 460 315 475 257 397 317 486 155 504 213 509 182 493 262 510 273 480 308 419 262 397 236 473 104 473 289 463 260 412 235 471 239 425 231 494 179 473 299 500 204 482 269 506 308 451 247 450 249 473 256 496 198 498 264 449 101 507 173 466 224 468 269 470 242 473 283 495 141 475 282 462 212 509 251 461 240 503 241 463 98 464 187 474 180 506 309 507 244 453 256 427 102 499 325 494 163 494 229 494 247 494 273 504 283 508 251 508 311 467 247 502 257 503 270 465 271 511 280 452 245 493 144 511 283 468 303 422 257 495 97 499 270 483 237 450 217 477 221 466 224 491 296 481 244 441 260 511 270 481 99 451 309 493 255 504 295 485 359 473 271 439 259 497 297 439 216 504 270 406 233 507 285 417 258 477 351 463 250 471 207 481 163 457 223 506 194 509 243 487 234 511 182 494 216 464 219 464 240 471 185 494 299 478 189 474 258 506 255 401 270 427 210 509 294 473 138 474 244 485 208 504 266 487 262 437 259 488 236 422 206 482 249 492 261 491 293 510 234 469 252 506 228 498 162 501 228 474 203 510 198 482 245 475 237 504 242 421 217 446 247 315 200 477 249 455 240 468 233 463 217 486 298 479 223 392 167 511 235 484 95 503 279 373 286 413 279 456 272 501 224 312 211 463 207 507 189 510 98 508 131 509 254 456 260 503 257 474 277 471 231 511 277 426 282 441 252 471 260 480 246 504 260 458 282 476 301 490 254 509 267 495 244 456 213 451 195 495 248 461 247 478 212 495 109 489 192 498 115 492 251 498 226 444 295 472 231 487 219 506 198 456 202 473 255 484 162 492 269 479 265 441 226 485 217 482 336 456 240 495 212 458 308 462 164 414 261 320 238 468 225 510 306 283 282 493 328 434 279 363 231 375 219 484 284 480 216 438 273 503 232 461 252 488 226 426 248 501 197 347 199 499 180 492 207 496 295 503 209 509 248 440 226 501 190 506 249 469 335 486 280 434 302 404 219 455 239 461 271 423 206 494 318 397 243 474 203 490 167 477 155 510 250 476 289 406 293 433 237 491 250 456 230 464 229 506 216 492 110 511 238 438 241 494 267 504 269 504 266 396 235 459 197 474 268 444 236 351 242 464 287 483 241 500 92 505 236 433 218 446 169 455 232 490 157 508 239 484 106 499 192 475 226 425 256 480 239 447 276 445 247 470 96 459 294 493 277 492 241 467 257 476 304 452 196 465 249 451 236 401 163 507 230 505 174 502 281 484 156 505 222 412 176 377 105 510 285 462 189 486 206 504 251 499 191 482 177 470 210 481 233 510 219 443 239 491 231 466 266 445 262 493 245 456 274 483 211 461 212 501 295 455 270 386 209 482 208 430 266 512 207 486 277 474 216 498 261 473 317 451 256 502 215 438 179 493 282 463 230 467 246 426 275 508 264 482 224 498 217 421 124 511 199 511 318 450 231 488 201 464 87 484 214 461 212 480 250 510 191 503 135 511 231 505 156 502 302 487 143 473 286 409 273 497 197 484 227 449 223 471 258 429 223 502 282 496 278 383 203 480 249 478 165 496 212 477 163 502 208 475 243 489 236 499 161 474 273 410 270 356 317 500 239 489 241 485 292 465 241 502 193 477 263 434 305 457 277 481 257 494 294 510 235 483 262 511 290 501 262 500 144 487 261 484 296 401 266 491 165 509 228 427 252 459 243 475 262 430 284 510 302 506 278 473 227 504 272 495 266 468 265 424 242 480 179 494 261 432 271 496 95 499 239 362 250 483 181 485 234 496 260 510 253 489 312 437 226 486 118 512 239 471 260 509 274 439 99 478 248 499 112 509 252 505 241 441 254 508 210 497 265 511 258 473 290 350 221 492 307 477 211 466 269 400 197 466 109 471 260 459 229 446 230 495 245 509 285 466 295 502 229 454 248 500 121 511 231 490 173 483 214 459 261 461 191 509 248 473 99 507 259 494 171 480 273 511 234 459 232 468 184 508 94 509 293 465 103 505 293 468 298 480 319 416 278 486 279 477 240 492 216 496 269 462 231 442 239 499 200 483 205 467 260 493 274 451 278 387 227 492 300 487 215 488 257 491 274 509 282 511 213 458 292 502 246 501 187 511 274 498 240 472 193 487 179 497 304 478 319 425 276 409 280 493 272 505 286 510 119 500 229 423 243 500 248 464 250 497 300 504 287 497 234 506 96 497 241 417 268 440 265 347 299 362 196 469 322 478 171 472 264 509 236 463 268 498 219 460 243 436 251 456 261 500 272 420 325 473 259 481 251 431 220 503 240 505 296 395 217 500 302 490 285 436 154 503 311 510 166 503 241 366 200 491 285 487 124 425 239 383 281 489 247 442 261 487 236 494 275 479 255 456 226 496 114 461 219 469 210 483 197 435 233 511 288 451 277 484 309 509 291 454 284 489 246 476 190 485 284 455 298 466 255 442 318 510 293 497 254 436 279 440 240 444 252 475 242 419 232 466 154 456 193 501 268 480 285 491 247 499 231 467 297 361 252 489 230 457 204 479 245 511 219 495 293 485 164 488 254 495 224 447 198 500 290 454 219 472 225 488 163 505 225 506 297 505 232 400 288 491 103 511 254 481 216 510 228 451 293 491 188 368 253 486 253 459 235 486 301 387 249 505 278 456 237 503 234 512 212 443 319 507 225 452 250 481 284 476 245 439 222 397 313 467 275 457 210 472 207 499 286 479 258 483 243 446 251 412 247 457 233 450 310 458 81 512 278 447 227 485 220 475 201 500 217 490 160 508 315 436 267 452 321 407 221 508 224 479 192 476 246 473 263 464 257 483 283 460 226 508 298 495 185 502 132 443 148 502 279 390 225 453 190 325 250 488 251 471 179 508 293 499 248 415 275 477 238 462 289 472 239 493 146 510 231 483 272 492 226 476 229 489 331 501 243 511 330 490 214 488 152 444 315 494 206 410 251 440 255 498 270 364 230 378 242 443 112 508 205 497 249 465 105 494 342 498 276 443 128 468 265 498 249 445 179 506 272 497 304 504 268 484 296 407 194 485 164 477 416 498 94 505 225 485 294 483 187 510 221 468 285 492 253 496 283 509 283 479 268 475 162 507 137 509 214 458 217 497 259 459 266 461 193 422 136 506 182 509 267 482 175 511 172 498 201 511 287 480 249 499 238 491 227 506 261 388 240 441 266 511 300 500 167 451 272 454 252 486 233 379 264 508 297 479 197 476 295 510 252 511 330 354 268 497 103 501 201 480 237 427 201 470 237 490 259 450 255 508 209 470 309 504 266 490 205 449 256 506 258 463 179 482 287 462 218 462 296 468 169 503 226 509 305 496 256 446 268 476 216 495 219 510 157 507 235 498 222 404 263 506 232 437 328 418 231 420 264 392 124 504 263 466 245 436 265 506 234 489 181 500 95 497 93 510 223 460 272 455 162 510 288 505 211 487 267 446 351 451 161 498 243 451 314 485 192 499 199 506 108 503 306 509 242 476 272 386 300 470 251 459 235 477 275 491 204 477 233 466 253 473 152 506 289 490 231 398 272 457 269 434 189 467 107 511 236 443 178 470 241 397 267 468 311 453 105 471 188 489 222 506 245 463 231 477 230 496 215 504 269 465 272 510 119 452 217 431 240 459 206 490 254 477 274 452 244 334 237 482 283 499 312 454 269 451 257 501 295 416 285 428 269 500 281 477 222 481 245 447 263 451 251 416 294 457 198 474 227 503 238 490 273 461 305 426 203 442 181 458 331 496 258 450 256 494 252 504 232 481 219 467 272 435 268 486 265 371 296 398 252 439 192 321 207 482 351 406 314 352 281 436 269 482 260 504 329 470 317 483 226 465 218 484 261 442 273 483 263 429 314 486 107 507 243 449 293 492 282 484 285 485 270 470 275 429 272 426 274 473 227 454 105 507 266 493 256 453 226 445 154 510 254 467 241 402 258 439 216 478 254 510 286 482 257 449 259 505 245 470 272 480 225 491 306 502 262 502 247 492 280 406 208 506 266 454 241 497 261 446 235 495 249 459 193 410 194 486 204 462 257 511 240 502 239 506 203 497 236 474 260 467 220 508 286 481 107 505 284 408 275 430 266 435 278 496 248 490 322 502 267 417 221 505 203 489 254 453 271 487 248 485 194 490 225 481 313 479 240 487 160 502 297 477 296 497 269 480 251 458 209 469 293 475 252 509 144 504 225 412 264 437 271 481 102 509 221 500 298 445 105 493 250 502 233 413 321 440 279 511 291 452 331 439 242 501 296 478 233 467 101 506 276 486 244 464 281 500 93 507 254 498 165 457 170 506 198 495 236 467 87 504 318 387 314 389 94 492 250 470 233 477 273 445 260 494 248 437 230 511 261 510 260 465 97 510 302 481 259 504 212 423 238 465 276 497 228 469 267 489 266 409 249 500 266 481 278 476 264 474 217 466 200 498 106 493 257 444 267 488 245 490 198 438 254 503 302 500 270 437 251 451 256 405 255 486 259 491 240 474 134 493 276 417 221 450 266 488 282 408 241 433 261 493 199 439 175 499 310 485 255 499 256 490 304 481 179 475 236 438 294 508 235 507 221 491 222 501 273 372 260 501 236 482 98 477 218 510 267 500 266 489 243 245 246 479 243 465 200 510 206 487 272 489 117 404 285 461 246 481 224 504 263 490 267 502 236 504 179 507 298 504 232 469 84 506 195 500 193 490 244 480 167 490 222 511 297 398 248 423 275 512 275 453 248 441 271 490 86 504 358 338 213 472 242 414 267 503 245 479 288 462 260 485 288 499 279 499 311 492 224 424 257 438 336 464 257 488 249 474 244 467 217 470 168 469 110 509 266 441 140 491 273 494 301 421 202 449 258 434 239 490 264 416 262 385 273 420 214 398 270 496 284 483 279 473 315 505 262 463 237 506 281 472 187 446 264 495 212 503 309 497 268 482 257 496 92 498 186 505 313 506 305 490 245 444 267 510 331 471 264 368 236 491 288 484 230 310 212 486 207 501 255 510 255 434 294 487 242 481 242 428 193 493 150 505 229 448 219 483 228 455 294 453 261 424 244 497 213 475 185 423 238 498 272 397 319 489 229 510 224 454 251 300 248 484 222 482 207 475 87 510 300 405 302 464 282 431 307 487 271 472 240 481 265 472 248 482 148 506 183 470 199 497 364 501 269 468 334 440 281 454 204 453 98 509 298 509 133 506 201 476 104 496 260 489 254 448 205 478 237 475 258 484 243 408 276 397 214 496 251 403 287 420 124 495 258 490 247 414 277 495 268 446 236 509 192 507 167 507 301 489 254 512 248 428 232 463 259 472 205 502 218 505 249 472 259 464 268 507 272 462 263 472 183 485 285 479 247 506 219 412 227 496 280 502 210 430 254 418 283 485 230 491 285 496 206 496 310 384 252 467 271 358 272 467 105 498 259 426 266 479 220 460 332 461 270 509 279 494 245 455 315 500 265 451 279 479 269 483 251 479 295 454 260 488 228 507 270 399 209 478 229 409 264 492 171 496 225 508 296 504 243 503 257 411 214 480 187 462 272 413 301 501 120 499 289 480 213 474 243 458 244 473 270 464 274 482 266 478 221 425 151 512 223 507 273 512 207 491 255 473 311 503 154 479 220 422 231 462 274 495 103 479 239 465 289 512 257 389 250 484 308 495 295 488 187 485 215 463 280 432 92 496 228 470 255 483 163 488 116 510 296 508 160 511 196 484 233 493 264 502 253 479 222 495 269 443 265 446 242 482 261 486 274 475 298 464 264 498 251 437 164 509 243 460 260 453 214 447 281 511 235 476 249 471 257 487 270 438 269 497 213 511 255 497 313 385 200 502 333 475 272 479 242 507 243 477 289 461 233 470 290 508 298 465 238 458 245 498 221 488 261 479 260 428 297 415 217 475 276 495 89 496 235 511 154 465 233 410 110 502 292 476 263 510 104 501 279 480 239 496 178 507 208 502 234 508 281 418 217 408 278 500 280 417 231 478 130 510 226 418 182 484 245 429 268 461 295 508 350 511 219 493 216 493 187 497 254 429 286 507 289 489 205 484 196 473 261 506 291 422 252 510 202 508 284 487 246 464 246 484 239 426 180 452 307 432 209 508 214 434 247 465 207 502 231 460 291 474 225 492 234 476 215 440 243 463 305 499 241 472 295 475 207 410 227 435 256 452 274 504 233 489 257 510 114 509 303 466 99 505 329 504 239 510 252 483 105 501 185 323 244 411 216 491 236 458 238 506 180 479 249 485 259 425 258 500 215 480 271 486 286 488 243 482 249 443 264 483 205 445 226 498 275 471 169 481 258 438 257 493 269 428 266 500 236 449 194 483 235 465 259 485 214 485 294 506 226 499 211 465 236 446 288 490 274 464 227 455 89 511 269 467 276 401 252 468 105 479 185 455 292 483 244 469 302 493 226 450 205 413 108 511 292 477 297 407 259 452 152 505 219 489 249 403 273 274 291 471 213 408 256 442 287 432 261 462 234 483 251 505 258 498 185 484 97 507 314 510 251 448 101 508 253 490 264 421 271 510 101 472 219 507 252 438 235 485 236 512 293 505 227 452 217 494 215 506 261 509 259 454 266 494 191 479 268 471 114 494 288 482 244 460 277 436 268 477 254 491 269 503 164 512 284 433 237 487 149 448 227 511 236 500 220 470 240 486 266 508 189 463 342 411 285 510 303 461 189 502 236 489 246 425 246 482 264 429 168 504 319 438 250 440 260 506 237 486 97 495 202 489 275 407 232 475 221 481 229 493 246 463 223 442 290 442 278 393 277 433 250 509 139 494 260 445 214 377 273 479 186 493 230 473 215 451 164 478 262 501 279 505 196 482 148 466 239 504 181 511 343 488 181 402 255 414 229 481 224 464 177 496 217 410 223 512 200 494 275 505 248 469 265 461 226 478 265 440 315 491 257 508 291 464 244 476 199 494 241 454 126 504 309 483 291 479 229 466 306 459 280 490 256 477 290 494 279 508 269 486 236 468 218 444 228 509 242 469 186 496 238 483 249 498 211 484 231 512 280 436 262 478 190 499 154 507 184 484 235 479 218 508 241 503 290 510 285 391 210 507 276 509 234 465 264 393 242 444 138 505 128 511 211 438 276 492 292 482 252 493 165 392 218 500 113 466 215 469 289 460 243 504 195 501 104 476 142 511 282 440 242 448 273 507 372 377 238 448 101 484 258 410 223 480 186 475 223 475 225 437 180 505 300 493 269 510 207 500 217 463 307 486 192 494 275 511 296 495 298 449 222 473 227 507 90 473 177 505 280 420 254 388 302 467 222 507 319 428 281 451 339 339 226 436 367 494 272 486 231 435 183 499 224 480 222 469 240 434 207 498 246 512 212 511 278 510 96 479 264 486 223 504 250 501 223 510 270 378 258 495 227 493 296 487 199 450 270 511 122 472 180 458 269 499 218 494 316 489 237 466 350 413 235 470 223 490 229 421 291 489 213 486 231 503 117 493 214 482 268 411 217 479 278 509 245 481 217 485 245 471 258 430 230 506 247 489 309 440 246 500 159 503 235 487 274 477 211 503 290 484 251 511 232 503 295 480 337 504 213 510 129 498 309 475 264 298 248 510 244 484 250 503 300 508 275 490 204 505 259 500 253 505 181 512 166 499 198 494 89 498 276 458 257 506 182 508 265 476 285 418 254 468 257 434 325 407 266 471 290 472 246 450 233 482 204 508 272 460 254 480 182 427 244 489 233 487 262 451 215 442 277 510 232 484 275 463 222 503 238 464 104 511 313 505 224 430 263 463 225 449 312 485 312 390 288 439 203 432 109 488 275 495 271 431 246 503 267 473 200 507 259 405 286 463 229 509 218 495 305 498 93 476 200 487 219 502 296 418 295 458 268 426 295 401 252 499 270 498 472 512 249 460 213 463 225 470 240 460 285 416 258 426 297 468 208 465 317 356 290 488 239 455 209 490 239 492 243 426 273 495 182 485 262 474 304 506 189 422 220 486 148 500 224 460 302 510 237 501 246 471 156 498 217 507 170 508 323 499 100 468 236 452 239 413 247 419 105 508 203 496 336 463 318 484 262 431 102 508 305 456 408 501 266 477 88 504 153 509 220 497 223 420 214 466 217 450 286 496 324 487 228 437 184 501 320 507 261 449 224 465 182 496 266 419 289 506 263 488 267 310 206 499 215 490 188 509 245 492 276 483 287 493 267 467 175 468 235 497 267 435 302 375 321 510 245 445 206 463 300 358 265 459 335 430 213 476 251 484 214 494 253 439 216 499 230 453 230 497 243 476 252 494 237 509 89 510 239 379 310 477 321 480 267 470 252 429 259 436 208 508 273 500 218 504 176 507 226 467 236 476 218 498 220 467 289 504 224 437 245 506 265 485 276 455 271 492 235 499 288 427 271 465 261 434 259 493 264 443 311 471 262 491 186 500 138 506 289 495 290 358 126 485 205 452 332 486 290 470 207 480 266 497 260 490 238 474 203 503 233 483 198 504 227 498 294 489 265 487 223 494 238 503 224 509 331 443 304 508 303 491 266 415 260 438 211 483 257 471 287 496 221 471 157 509 203 466 219 454 262 459 275 487 229 366 217 491 262 504 202 483 253 467 225 471 258 421 210 486 250 478 267 365 222 491 234 490 159 486 255 444 174 499 289 465 336 369 198 483 164 507 84 508 289 503 105 463 272 419 224 466 250 492 97 500 249 509 271 413 209 438 198 473 232 482 208 482 187 442 269 409 239 502 266 465 242 509 296 482 229 435 267 456 257 463 262 454 225 478 99 508 233 488 279 490 180 481 289 505 207 474 264 503 275 417 275 465 176 440 235 468 193 506 245 488 190 496 111 504 281 508 250 446 196 509 194 511 302 489 220 471 243 378 203 478 156 510 91 492 281 499 275 445 278 507 291 480 92 511 199 496 247 464 143 466 230 466 264 511 105 416 171 509 208 445 302 479 249 503 211 502 227 410 263 482 242 486 92 501 253 497 291 449 275 500 286 489 286 332 270 493 226 495 234 495 157 506 241 511 220 407 331 425 237 469 196 498 299 386 280 475 226 466 248 474 262 509 237 433 314 430 255 424 280 427 194 496 274 500 112 482 262 498"/>
<path class="sp" d="M62.00 110.90V530.80H491.10"/>
<path class="sp" d="M62.00 17.60V66.85H491.10"/>
<path class="sp" d="M514.05 110.90V530.80H582.40"/>
<text class="t" x="48.8" y="518" text-anchor="end">0</text><text class="t" x="48.8" y="441" text-anchor="end">1</text><text class="t" x="48.8" y="364" text-anchor="end">2</text><text class="t" x="48.8" y="287" text-anchor="end">3</text><text class="t" x="48.8" y="210" text-anchor="end">4</text><text class="t" x="48.8" y="133" text-anchor="end">5</text>
<text class="t" x="80.80" y="556" text-anchor="middle">0</text><text class="t" x="165.20" y="556" text-anchor="middle">1</text><text class="t" x="249.60" y="556" text-anchor="middle">2</text><text class="t" x="334.00" y="556" text-anchor="middle">3</text><text class="t" x="418.40" y="556" text-anchor="middle">4</text>
<text class="t" x="47.6" y="48" text-anchor="end">500</text><text class="t" x="48.8" y="73" text-anchor="end">0</text>
<text class="t" x="514.05" y="556" text-anchor="middle">0</text><text class="t" x="550.55" y="556" text-anchor="middle">1</text>
<text class="t" x="62" y="106">1e2</text><text class="t" x="515" y="106">1e2</text><text class="t" x="582" y="575" text-anchor="end">1e3</text>
<text class="l" x="276.5" y="580" text-anchor="middle">RMSD (Å)</text>
<text class="l" transform="translate(29.2 322) rotate(-90)" text-anchor="middle">Energy MAE (kcal/mol)</text>
</svg>
</body></html>
